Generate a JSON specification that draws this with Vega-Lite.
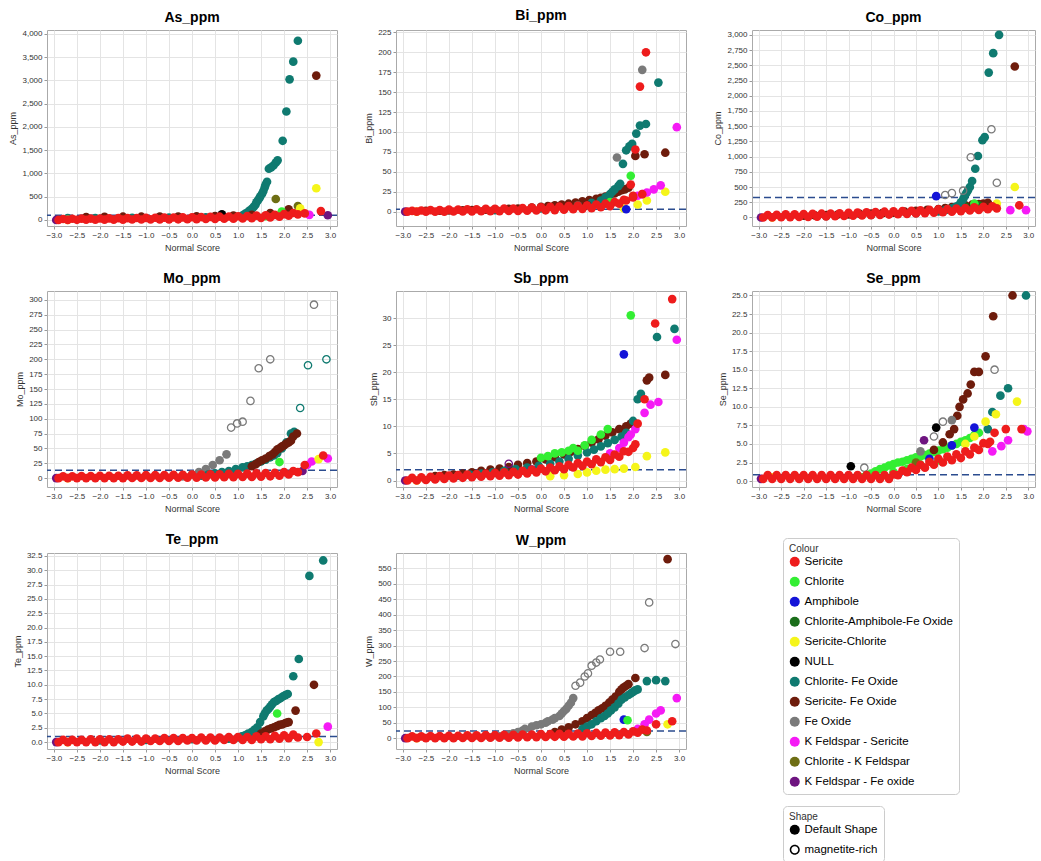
{
"$schema":"https://vega.github.io/schema/vega-lite/v6.json",
"background":"white",
"padding":{"left":8,"top":8,"right":2,"bottom":2},
"columns":3,
"spacing":{"row":18,"column":25},
"resolve":{"scale":{"x":"independent","y":"independent","color":"shared","shape":"shared"}},
"config":{"font":"Liberation Sans","view":{"stroke":"#aaaaaa"},"title":{"fontSize":14,"fontWeight":"bold","offset":5,"color":"#000"},"axis":{"labelFontSize":8,"titleFontSize":9,"titleFontWeight":"normal","labelColor":"#333","titleColor":"#333","gridColor":"#e4e4e4","domain":false,"tickColor":"#999","tickSize":3,"titlePadding":4}},
"datasets":{
"thr":[{"p":"As","y":100},{"p":"Bi","y":3},{"p":"Co","y":330},{"p":"Mo","y":13},{"p":"Sb","y":2},{"p":"Se","y":0.85},{"p":"Te","y":1},{"p":"W","y":23}],
"pts":[
{"p":"As","c":"Chlorite- Fe Oxide","s":"D","x":-2.7,"y":40},{"p":"As","c":"Chlorite- Fe Oxide","s":"D","x":-2.1,"y":40},{"p":"As","c":"Chlorite- Fe Oxide","s":"D","x":-1.3,"y":45},{"p":"As","c":"Chlorite- Fe Oxide","s":"D","x":-0.5,"y":50},{"p":"As","c":"Chlorite- Fe Oxide","s":"D","x":0.3,"y":55},{"p":"As","c":"Chlorite- Fe Oxide","s":"D","x":0.9,"y":70},{"p":"As","c":"Chlorite- Fe Oxide","s":"D","x":1.1,"y":100},{"p":"As","c":"Chlorite- Fe Oxide","s":"D","x":1.15,"y":130},{"p":"As","c":"Chlorite- Fe Oxide","s":"D","x":1.2,"y":160},{"p":"As","c":"Chlorite- Fe Oxide","s":"D","x":1.25,"y":200},{"p":"As","c":"Chlorite- Fe Oxide","s":"D","x":1.3,"y":240},{"p":"As","c":"Chlorite- Fe Oxide","s":"D","x":1.34,"y":280},{"p":"As","c":"Chlorite- Fe Oxide","s":"D","x":1.38,"y":330},{"p":"As","c":"Chlorite- Fe Oxide","s":"D","x":1.4,"y":380},{"p":"As","c":"Chlorite- Fe Oxide","s":"D","x":1.43,"y":420},{"p":"As","c":"Chlorite- Fe Oxide","s":"D","x":1.46,"y":460},{"p":"As","c":"Chlorite- Fe Oxide","s":"D","x":1.48,"y":500},{"p":"As","c":"Chlorite- Fe Oxide","s":"D","x":1.52,"y":560},{"p":"As","c":"Chlorite- Fe Oxide","s":"D","x":1.55,"y":620},{"p":"As","c":"Chlorite- Fe Oxide","s":"D","x":1.58,"y":700},{"p":"As","c":"Chlorite- Fe Oxide","s":"D","x":1.6,"y":760},{"p":"As","c":"Chlorite- Fe Oxide","s":"D","x":1.63,"y":820},{"p":"As","c":"Chlorite- Fe Oxide","s":"D","x":1.67,"y":1100},{"p":"As","c":"Chlorite- Fe Oxide","s":"D","x":1.72,"y":1130},{"p":"As","c":"Chlorite- Fe Oxide","s":"D","x":1.77,"y":1170},{"p":"As","c":"Chlorite- Fe Oxide","s":"D","x":1.82,"y":1230},{"p":"As","c":"Chlorite- Fe Oxide","s":"D","x":1.86,"y":1280},{"p":"As","c":"Chlorite- Fe Oxide","s":"D","x":1.97,"y":1700},{"p":"As","c":"Chlorite- Fe Oxide","s":"D","x":2.05,"y":2330},{"p":"As","c":"Chlorite- Fe Oxide","s":"D","x":2.12,"y":3020},{"p":"As","c":"Chlorite- Fe Oxide","s":"D","x":2.2,"y":3400},{"p":"As","c":"Chlorite- Fe Oxide","s":"D","x":2.3,"y":3850},
{"p":"As","c":"Sericite- Fe Oxide","s":"D","x":-2.3,"y":60},{"p":"As","c":"Sericite- Fe Oxide","s":"D","x":-1.9,"y":65},{"p":"As","c":"Sericite- Fe Oxide","s":"D","x":-1.5,"y":70},{"p":"As","c":"Sericite- Fe Oxide","s":"D","x":-1.1,"y":70},{"p":"As","c":"Sericite- Fe Oxide","s":"D","x":-0.7,"y":75},{"p":"As","c":"Sericite- Fe Oxide","s":"D","x":-0.3,"y":75},{"p":"As","c":"Sericite- Fe Oxide","s":"D","x":0.1,"y":80},{"p":"As","c":"Sericite- Fe Oxide","s":"D","x":0.5,"y":85},{"p":"As","c":"Sericite- Fe Oxide","s":"D","x":0.9,"y":95},{"p":"As","c":"Sericite- Fe Oxide","s":"D","x":1.3,"y":110},{"p":"As","c":"Sericite- Fe Oxide","s":"D","x":1.7,"y":150},{"p":"As","c":"Sericite- Fe Oxide","s":"D","x":2.1,"y":230},{"p":"As","c":"Sericite- Fe Oxide","s":"D","x":2.7,"y":3100},
{"p":"As","c":"Chlorite - K Feldspar","s":"D","x":1.82,"y":450},{"p":"As","c":"Chlorite - K Feldspar","s":"D","x":2.3,"y":300},
{"p":"As","c":"Sericite-Chlorite","s":"D","x":-2.7,"y":0},{"p":"As","c":"Sericite-Chlorite","s":"D","x":2.35,"y":250},{"p":"As","c":"Sericite-Chlorite","s":"D","x":2.7,"y":680},
{"p":"As","c":"Chlorite","s":"D","x":1.6,"y":80},{"p":"As","c":"Chlorite","s":"D","x":1.95,"y":180},
{"p":"As","c":"NULL","s":"D","x":0.65,"y":120},
{"p":"As","c":"K Feldspar - Fe oxide","s":"D","x":-2.95,"y":0},{"p":"As","c":"K Feldspar - Fe oxide","s":"D","x":2.95,"y":100},
{"p":"As","c":"K Feldspar - Sericite","s":"D","x":2.55,"y":110},
{"p":"As","c":"Sericite","s":"D","x":-2.8,"y":20},{"p":"As","c":"Sericite","s":"D","x":-2.6,"y":25},{"p":"As","c":"Sericite","s":"D","x":-2.4,"y":28},{"p":"As","c":"Sericite","s":"D","x":-2.2,"y":30},{"p":"As","c":"Sericite","s":"D","x":-2.0,"y":32},{"p":"As","c":"Sericite","s":"D","x":-1.8,"y":35},{"p":"As","c":"Sericite","s":"D","x":-1.6,"y":38},{"p":"As","c":"Sericite","s":"D","x":-1.4,"y":40},{"p":"As","c":"Sericite","s":"D","x":-1.2,"y":42},{"p":"As","c":"Sericite","s":"D","x":-1.0,"y":45},{"p":"As","c":"Sericite","s":"D","x":-0.8,"y":48},{"p":"As","c":"Sericite","s":"D","x":-0.6,"y":50},{"p":"As","c":"Sericite","s":"D","x":-0.4,"y":52},{"p":"As","c":"Sericite","s":"D","x":-0.2,"y":55},{"p":"As","c":"Sericite","s":"D","x":0,"y":58},{"p":"As","c":"Sericite","s":"D","x":0.2,"y":62},{"p":"As","c":"Sericite","s":"D","x":0.4,"y":66},{"p":"As","c":"Sericite","s":"D","x":0.6,"y":70},{"p":"As","c":"Sericite","s":"D","x":0.8,"y":75},{"p":"As","c":"Sericite","s":"D","x":1.0,"y":80},{"p":"As","c":"Sericite","s":"D","x":1.2,"y":85},{"p":"As","c":"Sericite","s":"D","x":1.4,"y":92},{"p":"As","c":"Sericite","s":"D","x":1.6,"y":100},{"p":"As","c":"Sericite","s":"D","x":1.8,"y":110},{"p":"As","c":"Sericite","s":"D","x":2.0,"y":125},{"p":"As","c":"Sericite","s":"D","x":2.2,"y":150},
{"p":"As","c":"Sericite","s":"D","x":-2.9,"y":0},{"p":"As","c":"Sericite","s":"D","x":-2.7,"y":2},{"p":"As","c":"Sericite","s":"D","x":-2.5,"y":3},{"p":"As","c":"Sericite","s":"D","x":-2.3,"y":4},{"p":"As","c":"Sericite","s":"D","x":-2.1,"y":5},{"p":"As","c":"Sericite","s":"D","x":-1.9,"y":6},{"p":"As","c":"Sericite","s":"D","x":-1.7,"y":7},{"p":"As","c":"Sericite","s":"D","x":-1.5,"y":8},{"p":"As","c":"Sericite","s":"D","x":-1.3,"y":9},{"p":"As","c":"Sericite","s":"D","x":-1.1,"y":10},{"p":"As","c":"Sericite","s":"D","x":-0.9,"y":11},{"p":"As","c":"Sericite","s":"D","x":-0.7,"y":12},{"p":"As","c":"Sericite","s":"D","x":-0.5,"y":13},{"p":"As","c":"Sericite","s":"D","x":-0.3,"y":14},{"p":"As","c":"Sericite","s":"D","x":-0.1,"y":16},{"p":"As","c":"Sericite","s":"D","x":0.1,"y":18},{"p":"As","c":"Sericite","s":"D","x":0.3,"y":20},{"p":"As","c":"Sericite","s":"D","x":0.5,"y":22},{"p":"As","c":"Sericite","s":"D","x":0.7,"y":25},{"p":"As","c":"Sericite","s":"D","x":0.9,"y":28},{"p":"As","c":"Sericite","s":"D","x":1.1,"y":32},{"p":"As","c":"Sericite","s":"D","x":1.3,"y":38},{"p":"As","c":"Sericite","s":"D","x":1.5,"y":45},{"p":"As","c":"Sericite","s":"D","x":1.7,"y":55},{"p":"As","c":"Sericite","s":"D","x":1.9,"y":70},{"p":"As","c":"Sericite","s":"D","x":2.1,"y":90},{"p":"As","c":"Sericite","s":"D","x":2.3,"y":120},{"p":"As","c":"Sericite","s":"D","x":2.45,"y":140},{"p":"As","c":"Sericite","s":"D","x":2.8,"y":190},

{"p":"Bi","c":"Sericite- Fe Oxide","s":"D","x":-2.5,"y":1},{"p":"Bi","c":"Sericite- Fe Oxide","s":"D","x":-2.2,"y":1.2},{"p":"Bi","c":"Sericite- Fe Oxide","s":"D","x":-2.0,"y":1.5},{"p":"Bi","c":"Sericite- Fe Oxide","s":"D","x":-1.7,"y":1.8},{"p":"Bi","c":"Sericite- Fe Oxide","s":"D","x":-1.5,"y":2},{"p":"Bi","c":"Sericite- Fe Oxide","s":"D","x":-1.2,"y":2.5},{"p":"Bi","c":"Sericite- Fe Oxide","s":"D","x":-1.0,"y":3},{"p":"Bi","c":"Sericite- Fe Oxide","s":"D","x":-0.7,"y":3.5},{"p":"Bi","c":"Sericite- Fe Oxide","s":"D","x":-0.5,"y":4},{"p":"Bi","c":"Sericite- Fe Oxide","s":"D","x":-0.2,"y":5},{"p":"Bi","c":"Sericite- Fe Oxide","s":"D","x":0,"y":6},{"p":"Bi","c":"Sericite- Fe Oxide","s":"D","x":0.15,"y":7},{"p":"Bi","c":"Sericite- Fe Oxide","s":"D","x":0.3,"y":8},{"p":"Bi","c":"Sericite- Fe Oxide","s":"D","x":0.45,"y":9},{"p":"Bi","c":"Sericite- Fe Oxide","s":"D","x":0.6,"y":10},{"p":"Bi","c":"Sericite- Fe Oxide","s":"D","x":0.75,"y":11.5},{"p":"Bi","c":"Sericite- Fe Oxide","s":"D","x":0.9,"y":13},{"p":"Bi","c":"Sericite- Fe Oxide","s":"D","x":1.05,"y":14.5},{"p":"Bi","c":"Sericite- Fe Oxide","s":"D","x":1.2,"y":16},{"p":"Bi","c":"Sericite- Fe Oxide","s":"D","x":1.3,"y":17.5},{"p":"Bi","c":"Sericite- Fe Oxide","s":"D","x":1.4,"y":19},{"p":"Bi","c":"Sericite- Fe Oxide","s":"D","x":1.5,"y":21},{"p":"Bi","c":"Sericite- Fe Oxide","s":"D","x":1.6,"y":23},{"p":"Bi","c":"Sericite- Fe Oxide","s":"D","x":1.68,"y":25},{"p":"Bi","c":"Sericite- Fe Oxide","s":"D","x":1.75,"y":27},{"p":"Bi","c":"Sericite- Fe Oxide","s":"D","x":1.82,"y":28},{"p":"Bi","c":"Sericite- Fe Oxide","s":"D","x":1.9,"y":30},{"p":"Bi","c":"Sericite- Fe Oxide","s":"D","x":2.05,"y":70},{"p":"Bi","c":"Sericite- Fe Oxide","s":"D","x":2.25,"y":72},{"p":"Bi","c":"Sericite- Fe Oxide","s":"D","x":2.7,"y":74},
{"p":"Bi","c":"Chlorite- Fe Oxide","s":"D","x":-1.0,"y":2},{"p":"Bi","c":"Chlorite- Fe Oxide","s":"D","x":0,"y":4},{"p":"Bi","c":"Chlorite- Fe Oxide","s":"D","x":0.8,"y":8},{"p":"Bi","c":"Chlorite- Fe Oxide","s":"D","x":1.1,"y":11},{"p":"Bi","c":"Chlorite- Fe Oxide","s":"D","x":1.3,"y":14},{"p":"Bi","c":"Chlorite- Fe Oxide","s":"D","x":1.4,"y":18},{"p":"Bi","c":"Chlorite- Fe Oxide","s":"D","x":1.5,"y":22},{"p":"Bi","c":"Chlorite- Fe Oxide","s":"D","x":1.55,"y":25},{"p":"Bi","c":"Chlorite- Fe Oxide","s":"D","x":1.6,"y":28},{"p":"Bi","c":"Chlorite- Fe Oxide","s":"D","x":1.68,"y":32},{"p":"Bi","c":"Chlorite- Fe Oxide","s":"D","x":1.72,"y":35},{"p":"Bi","c":"Chlorite- Fe Oxide","s":"D","x":1.78,"y":60},{"p":"Bi","c":"Chlorite- Fe Oxide","s":"D","x":1.85,"y":77},{"p":"Bi","c":"Chlorite- Fe Oxide","s":"D","x":1.92,"y":82},{"p":"Bi","c":"Chlorite- Fe Oxide","s":"D","x":1.98,"y":85},{"p":"Bi","c":"Chlorite- Fe Oxide","s":"D","x":2.07,"y":98},{"p":"Bi","c":"Chlorite- Fe Oxide","s":"D","x":2.15,"y":108},{"p":"Bi","c":"Chlorite- Fe Oxide","s":"D","x":2.28,"y":110},{"p":"Bi","c":"Chlorite- Fe Oxide","s":"D","x":2.55,"y":162},
{"p":"Bi","c":"Fe Oxide","s":"D","x":1.65,"y":68},{"p":"Bi","c":"Fe Oxide","s":"D","x":2.2,"y":178},
{"p":"Bi","c":"Chlorite","s":"D","x":1.5,"y":12},{"p":"Bi","c":"Chlorite","s":"D","x":1.95,"y":45},
{"p":"Bi","c":"Sericite-Chlorite","s":"D","x":-2.7,"y":0},{"p":"Bi","c":"Sericite-Chlorite","s":"D","x":1.8,"y":4},{"p":"Bi","c":"Sericite-Chlorite","s":"D","x":2.1,"y":9},{"p":"Bi","c":"Sericite-Chlorite","s":"D","x":2.3,"y":14},{"p":"Bi","c":"Sericite-Chlorite","s":"D","x":2.7,"y":25},
{"p":"Bi","c":"K Feldspar - Sericite","s":"D","x":2.1,"y":20},{"p":"Bi","c":"K Feldspar - Sericite","s":"D","x":2.2,"y":22},{"p":"Bi","c":"K Feldspar - Sericite","s":"D","x":2.3,"y":24},{"p":"Bi","c":"K Feldspar - Sericite","s":"D","x":2.45,"y":28},{"p":"Bi","c":"K Feldspar - Sericite","s":"D","x":2.6,"y":33},{"p":"Bi","c":"K Feldspar - Sericite","s":"D","x":2.95,"y":106},
{"p":"Bi","c":"Amphibole","s":"D","x":1.85,"y":3},{"p":"Bi","c":"K Feldspar - Fe oxide","s":"D","x":-2.95,"y":0},{"p":"Bi","c":"NULL","s":"D","x":1.0,"y":8},
{"p":"Bi","c":"Sericite","s":"D","x":-2.8,"y":1},{"p":"Bi","c":"Sericite","s":"D","x":-2.6,"y":1.5},{"p":"Bi","c":"Sericite","s":"D","x":-2.4,"y":2},{"p":"Bi","c":"Sericite","s":"D","x":-2.2,"y":2},{"p":"Bi","c":"Sericite","s":"D","x":-2.0,"y":2.5},{"p":"Bi","c":"Sericite","s":"D","x":-1.8,"y":2.5},{"p":"Bi","c":"Sericite","s":"D","x":-1.6,"y":3},{"p":"Bi","c":"Sericite","s":"D","x":-1.4,"y":3},{"p":"Bi","c":"Sericite","s":"D","x":-1.2,"y":3.5},{"p":"Bi","c":"Sericite","s":"D","x":-1.0,"y":3.5},{"p":"Bi","c":"Sericite","s":"D","x":-0.8,"y":4},{"p":"Bi","c":"Sericite","s":"D","x":-0.6,"y":4},{"p":"Bi","c":"Sericite","s":"D","x":-0.4,"y":4.5},{"p":"Bi","c":"Sericite","s":"D","x":-0.2,"y":5},{"p":"Bi","c":"Sericite","s":"D","x":0,"y":5.5},{"p":"Bi","c":"Sericite","s":"D","x":0.2,"y":6},{"p":"Bi","c":"Sericite","s":"D","x":0.4,"y":6.5},{"p":"Bi","c":"Sericite","s":"D","x":0.6,"y":7},{"p":"Bi","c":"Sericite","s":"D","x":0.8,"y":7.5},{"p":"Bi","c":"Sericite","s":"D","x":1.0,"y":8},{"p":"Bi","c":"Sericite","s":"D","x":1.2,"y":9},{"p":"Bi","c":"Sericite","s":"D","x":1.4,"y":10},{"p":"Bi","c":"Sericite","s":"D","x":1.6,"y":12},{"p":"Bi","c":"Sericite","s":"D","x":1.8,"y":15},{"p":"Bi","c":"Sericite","s":"D","x":2.0,"y":18},{"p":"Bi","c":"Sericite","s":"D","x":2.2,"y":22},
{"p":"Bi","c":"Sericite","s":"D","x":-2.9,"y":0},{"p":"Bi","c":"Sericite","s":"D","x":-2.7,"y":0},{"p":"Bi","c":"Sericite","s":"D","x":-2.5,"y":0},{"p":"Bi","c":"Sericite","s":"D","x":-2.3,"y":0},{"p":"Bi","c":"Sericite","s":"D","x":-2.1,"y":0},{"p":"Bi","c":"Sericite","s":"D","x":-1.9,"y":0.2},{"p":"Bi","c":"Sericite","s":"D","x":-1.7,"y":0.3},{"p":"Bi","c":"Sericite","s":"D","x":-1.5,"y":0.4},{"p":"Bi","c":"Sericite","s":"D","x":-1.3,"y":0.5},{"p":"Bi","c":"Sericite","s":"D","x":-1.1,"y":0.6},{"p":"Bi","c":"Sericite","s":"D","x":-0.9,"y":0.7},{"p":"Bi","c":"Sericite","s":"D","x":-0.7,"y":0.8},{"p":"Bi","c":"Sericite","s":"D","x":-0.5,"y":1},{"p":"Bi","c":"Sericite","s":"D","x":-0.3,"y":1.2},{"p":"Bi","c":"Sericite","s":"D","x":-0.1,"y":1.4},{"p":"Bi","c":"Sericite","s":"D","x":0.1,"y":1.7},{"p":"Bi","c":"Sericite","s":"D","x":0.3,"y":2},{"p":"Bi","c":"Sericite","s":"D","x":0.5,"y":2.5},{"p":"Bi","c":"Sericite","s":"D","x":0.7,"y":3},{"p":"Bi","c":"Sericite","s":"D","x":0.9,"y":3.5},{"p":"Bi","c":"Sericite","s":"D","x":1.1,"y":4.5},{"p":"Bi","c":"Sericite","s":"D","x":1.3,"y":5.5},{"p":"Bi","c":"Sericite","s":"D","x":1.5,"y":7},{"p":"Bi","c":"Sericite","s":"D","x":1.7,"y":10},{"p":"Bi","c":"Sericite","s":"D","x":1.85,"y":14},{"p":"Bi","c":"Sericite","s":"D","x":2.0,"y":20},{"p":"Bi","c":"Sericite","s":"D","x":1.95,"y":34},{"p":"Bi","c":"Sericite","s":"D","x":2.05,"y":78},{"p":"Bi","c":"Sericite","s":"D","x":2.15,"y":157},{"p":"Bi","c":"Sericite","s":"D","x":2.28,"y":200},

{"p":"Co","c":"Sericite- Fe Oxide","s":"D","x":-2.0,"y":30},{"p":"Co","c":"Sericite- Fe Oxide","s":"D","x":-1.75,"y":35},{"p":"Co","c":"Sericite- Fe Oxide","s":"D","x":-1.5,"y":40},{"p":"Co","c":"Sericite- Fe Oxide","s":"D","x":-1.25,"y":45},{"p":"Co","c":"Sericite- Fe Oxide","s":"D","x":-1.0,"y":50},{"p":"Co","c":"Sericite- Fe Oxide","s":"D","x":-0.75,"y":58},{"p":"Co","c":"Sericite- Fe Oxide","s":"D","x":-0.5,"y":65},{"p":"Co","c":"Sericite- Fe Oxide","s":"D","x":-0.25,"y":72},{"p":"Co","c":"Sericite- Fe Oxide","s":"D","x":0,"y":80},{"p":"Co","c":"Sericite- Fe Oxide","s":"D","x":0.25,"y":95},{"p":"Co","c":"Sericite- Fe Oxide","s":"D","x":0.5,"y":110},{"p":"Co","c":"Sericite- Fe Oxide","s":"D","x":0.75,"y":125},{"p":"Co","c":"Sericite- Fe Oxide","s":"D","x":1.0,"y":140},{"p":"Co","c":"Sericite- Fe Oxide","s":"D","x":1.15,"y":155},{"p":"Co","c":"Sericite- Fe Oxide","s":"D","x":1.3,"y":170},{"p":"Co","c":"Sericite- Fe Oxide","s":"D","x":1.45,"y":185},{"p":"Co","c":"Sericite- Fe Oxide","s":"D","x":1.6,"y":200},{"p":"Co","c":"Sericite- Fe Oxide","s":"D","x":1.75,"y":210},{"p":"Co","c":"Sericite- Fe Oxide","s":"D","x":1.9,"y":220},{"p":"Co","c":"Sericite- Fe Oxide","s":"D","x":2.0,"y":230},{"p":"Co","c":"Sericite- Fe Oxide","s":"D","x":2.1,"y":240},{"p":"Co","c":"Sericite- Fe Oxide","s":"D","x":2.7,"y":2480},
{"p":"Co","c":"Chlorite-Amphibole-Fe Oxide","s":"D","x":1.2,"y":140},{"p":"Co","c":"Chlorite-Amphibole-Fe Oxide","s":"D","x":1.6,"y":180},{"p":"Co","c":"Chlorite-Amphibole-Fe Oxide","s":"D","x":1.9,"y":200},
{"p":"Co","c":"Chlorite- Fe Oxide","s":"D","x":-1.5,"y":20},{"p":"Co","c":"Chlorite- Fe Oxide","s":"D","x":-0.5,"y":40},{"p":"Co","c":"Chlorite- Fe Oxide","s":"D","x":0.5,"y":70},{"p":"Co","c":"Chlorite- Fe Oxide","s":"D","x":1.0,"y":100},{"p":"Co","c":"Chlorite- Fe Oxide","s":"D","x":1.15,"y":120},{"p":"Co","c":"Chlorite- Fe Oxide","s":"D","x":1.3,"y":150},{"p":"Co","c":"Chlorite- Fe Oxide","s":"D","x":1.38,"y":175},{"p":"Co","c":"Chlorite- Fe Oxide","s":"D","x":1.45,"y":200},{"p":"Co","c":"Chlorite- Fe Oxide","s":"D","x":1.5,"y":250},{"p":"Co","c":"Chlorite- Fe Oxide","s":"D","x":1.55,"y":300},{"p":"Co","c":"Chlorite- Fe Oxide","s":"D","x":1.58,"y":350},{"p":"Co","c":"Chlorite- Fe Oxide","s":"D","x":1.62,"y":400},{"p":"Co","c":"Chlorite- Fe Oxide","s":"D","x":1.66,"y":450},{"p":"Co","c":"Chlorite- Fe Oxide","s":"D","x":1.7,"y":500},{"p":"Co","c":"Chlorite- Fe Oxide","s":"D","x":1.75,"y":600},{"p":"Co","c":"Chlorite- Fe Oxide","s":"D","x":1.82,"y":800},{"p":"Co","c":"Chlorite- Fe Oxide","s":"D","x":1.88,"y":1010},{"p":"Co","c":"Chlorite- Fe Oxide","s":"D","x":1.98,"y":1270},{"p":"Co","c":"Chlorite- Fe Oxide","s":"D","x":2.03,"y":1320},{"p":"Co","c":"Chlorite- Fe Oxide","s":"D","x":2.12,"y":2380},{"p":"Co","c":"Chlorite- Fe Oxide","s":"D","x":2.22,"y":2700},{"p":"Co","c":"Chlorite- Fe Oxide","s":"D","x":2.35,"y":3000},
{"p":"Co","c":"Fe Oxide","s":"M","x":1.15,"y":370},{"p":"Co","c":"Fe Oxide","s":"M","x":1.3,"y":400},{"p":"Co","c":"Fe Oxide","s":"M","x":1.55,"y":440},{"p":"Co","c":"Fe Oxide","s":"M","x":1.72,"y":990},{"p":"Co","c":"Fe Oxide","s":"M","x":2.18,"y":1450},{"p":"Co","c":"Fe Oxide","s":"M","x":2.3,"y":570},
{"p":"Co","c":"Amphibole","s":"D","x":0.95,"y":350},
{"p":"Co","c":"Sericite-Chlorite","s":"D","x":-2.7,"y":0},{"p":"Co","c":"Sericite-Chlorite","s":"D","x":2.3,"y":230},{"p":"Co","c":"Sericite-Chlorite","s":"D","x":2.7,"y":500},
{"p":"Co","c":"K Feldspar - Sericite","s":"D","x":2.6,"y":120},{"p":"Co","c":"K Feldspar - Sericite","s":"D","x":2.95,"y":120},
{"p":"Co","c":"Chlorite","s":"D","x":1.8,"y":230},{"p":"Co","c":"K Feldspar - Fe oxide","s":"D","x":-2.95,"y":0},
{"p":"Co","c":"Sericite","s":"D","x":-2.8,"y":40},{"p":"Co","c":"Sericite","s":"D","x":-2.6,"y":45},{"p":"Co","c":"Sericite","s":"D","x":-2.4,"y":50},{"p":"Co","c":"Sericite","s":"D","x":-2.2,"y":52},{"p":"Co","c":"Sericite","s":"D","x":-2.0,"y":55},{"p":"Co","c":"Sericite","s":"D","x":-1.8,"y":60},{"p":"Co","c":"Sericite","s":"D","x":-1.6,"y":62},{"p":"Co","c":"Sericite","s":"D","x":-1.4,"y":65},{"p":"Co","c":"Sericite","s":"D","x":-1.2,"y":70},{"p":"Co","c":"Sericite","s":"D","x":-1.0,"y":75},{"p":"Co","c":"Sericite","s":"D","x":-0.8,"y":80},{"p":"Co","c":"Sericite","s":"D","x":-0.6,"y":85},{"p":"Co","c":"Sericite","s":"D","x":-0.4,"y":90},{"p":"Co","c":"Sericite","s":"D","x":-0.2,"y":95},{"p":"Co","c":"Sericite","s":"D","x":0,"y":100},{"p":"Co","c":"Sericite","s":"D","x":0.2,"y":105},{"p":"Co","c":"Sericite","s":"D","x":0.4,"y":110},{"p":"Co","c":"Sericite","s":"D","x":0.6,"y":118},{"p":"Co","c":"Sericite","s":"D","x":0.8,"y":125},{"p":"Co","c":"Sericite","s":"D","x":1.0,"y":132},{"p":"Co","c":"Sericite","s":"D","x":1.2,"y":140},{"p":"Co","c":"Sericite","s":"D","x":1.4,"y":148},{"p":"Co","c":"Sericite","s":"D","x":1.6,"y":155},{"p":"Co","c":"Sericite","s":"D","x":1.8,"y":165},{"p":"Co","c":"Sericite","s":"D","x":2.0,"y":175},{"p":"Co","c":"Sericite","s":"D","x":2.2,"y":185},
{"p":"Co","c":"Sericite","s":"D","x":-2.9,"y":0},{"p":"Co","c":"Sericite","s":"D","x":-2.7,"y":2},{"p":"Co","c":"Sericite","s":"D","x":-2.5,"y":4},{"p":"Co","c":"Sericite","s":"D","x":-2.3,"y":6},{"p":"Co","c":"Sericite","s":"D","x":-2.1,"y":8},{"p":"Co","c":"Sericite","s":"D","x":-1.9,"y":10},{"p":"Co","c":"Sericite","s":"D","x":-1.7,"y":13},{"p":"Co","c":"Sericite","s":"D","x":-1.5,"y":16},{"p":"Co","c":"Sericite","s":"D","x":-1.3,"y":20},{"p":"Co","c":"Sericite","s":"D","x":-1.1,"y":24},{"p":"Co","c":"Sericite","s":"D","x":-0.9,"y":28},{"p":"Co","c":"Sericite","s":"D","x":-0.7,"y":33},{"p":"Co","c":"Sericite","s":"D","x":-0.5,"y":38},{"p":"Co","c":"Sericite","s":"D","x":-0.3,"y":43},{"p":"Co","c":"Sericite","s":"D","x":-0.1,"y":48},{"p":"Co","c":"Sericite","s":"D","x":0.1,"y":54},{"p":"Co","c":"Sericite","s":"D","x":0.3,"y":60},{"p":"Co","c":"Sericite","s":"D","x":0.5,"y":66},{"p":"Co","c":"Sericite","s":"D","x":0.7,"y":72},{"p":"Co","c":"Sericite","s":"D","x":0.9,"y":80},{"p":"Co","c":"Sericite","s":"D","x":1.1,"y":88},{"p":"Co","c":"Sericite","s":"D","x":1.3,"y":96},{"p":"Co","c":"Sericite","s":"D","x":1.5,"y":105},{"p":"Co","c":"Sericite","s":"D","x":1.7,"y":115},{"p":"Co","c":"Sericite","s":"D","x":1.9,"y":125},{"p":"Co","c":"Sericite","s":"D","x":2.1,"y":135},{"p":"Co","c":"Sericite","s":"D","x":2.3,"y":150},{"p":"Co","c":"Sericite","s":"D","x":2.8,"y":200},

{"p":"Mo","c":"Fe Oxide","s":"D","x":-0.2,"y":3},{"p":"Mo","c":"Fe Oxide","s":"D","x":0,"y":6},{"p":"Mo","c":"Fe Oxide","s":"D","x":0.15,"y":10},{"p":"Mo","c":"Fe Oxide","s":"D","x":0.3,"y":15},{"p":"Mo","c":"Fe Oxide","s":"D","x":0.45,"y":22},{"p":"Mo","c":"Fe Oxide","s":"D","x":0.6,"y":30},{"p":"Mo","c":"Fe Oxide","s":"D","x":0.75,"y":40},
{"p":"Mo","c":"Fe Oxide","s":"M","x":0.85,"y":85},{"p":"Mo","c":"Fe Oxide","s":"M","x":0.98,"y":92},{"p":"Mo","c":"Fe Oxide","s":"M","x":1.1,"y":95},{"p":"Mo","c":"Fe Oxide","s":"M","x":1.27,"y":130},{"p":"Mo","c":"Fe Oxide","s":"M","x":1.45,"y":185},{"p":"Mo","c":"Fe Oxide","s":"M","x":1.7,"y":200},{"p":"Mo","c":"Fe Oxide","s":"M","x":2.65,"y":292},
{"p":"Mo","c":"Chlorite- Fe Oxide","s":"M","x":2.35,"y":118},{"p":"Mo","c":"Chlorite- Fe Oxide","s":"M","x":2.52,"y":190},{"p":"Mo","c":"Chlorite- Fe Oxide","s":"M","x":2.92,"y":200},
{"p":"Mo","c":"Chlorite- Fe Oxide","s":"D","x":0.2,"y":4},{"p":"Mo","c":"Chlorite- Fe Oxide","s":"D","x":0.35,"y":6},{"p":"Mo","c":"Chlorite- Fe Oxide","s":"D","x":0.5,"y":8},{"p":"Mo","c":"Chlorite- Fe Oxide","s":"D","x":0.65,"y":10},{"p":"Mo","c":"Chlorite- Fe Oxide","s":"D","x":0.8,"y":12},{"p":"Mo","c":"Chlorite- Fe Oxide","s":"D","x":0.95,"y":15},{"p":"Mo","c":"Chlorite- Fe Oxide","s":"D","x":1.1,"y":18},{"p":"Mo","c":"Chlorite- Fe Oxide","s":"D","x":1.2,"y":20},{"p":"Mo","c":"Chlorite- Fe Oxide","s":"D","x":1.3,"y":22},{"p":"Mo","c":"Chlorite- Fe Oxide","s":"D","x":1.4,"y":25},{"p":"Mo","c":"Chlorite- Fe Oxide","s":"D","x":1.5,"y":28},{"p":"Mo","c":"Chlorite- Fe Oxide","s":"D","x":1.6,"y":31},{"p":"Mo","c":"Chlorite- Fe Oxide","s":"D","x":1.7,"y":35},{"p":"Mo","c":"Chlorite- Fe Oxide","s":"D","x":1.78,"y":38},{"p":"Mo","c":"Chlorite- Fe Oxide","s":"D","x":1.85,"y":42},{"p":"Mo","c":"Chlorite- Fe Oxide","s":"D","x":1.95,"y":50},{"p":"Mo","c":"Chlorite- Fe Oxide","s":"D","x":2.05,"y":60},{"p":"Mo","c":"Chlorite- Fe Oxide","s":"D","x":2.15,"y":75},{"p":"Mo","c":"Chlorite- Fe Oxide","s":"D","x":2.22,"y":78},
{"p":"Mo","c":"Sericite- Fe Oxide","s":"D","x":1.3,"y":20},{"p":"Mo","c":"Sericite- Fe Oxide","s":"D","x":1.38,"y":23},{"p":"Mo","c":"Sericite- Fe Oxide","s":"D","x":1.45,"y":27},{"p":"Mo","c":"Sericite- Fe Oxide","s":"D","x":1.52,"y":30},{"p":"Mo","c":"Sericite- Fe Oxide","s":"D","x":1.6,"y":33},{"p":"Mo","c":"Sericite- Fe Oxide","s":"D","x":1.68,"y":37},{"p":"Mo","c":"Sericite- Fe Oxide","s":"D","x":1.75,"y":40},{"p":"Mo","c":"Sericite- Fe Oxide","s":"D","x":1.8,"y":44},{"p":"Mo","c":"Sericite- Fe Oxide","s":"D","x":1.85,"y":48},{"p":"Mo","c":"Sericite- Fe Oxide","s":"D","x":1.9,"y":50},{"p":"Mo","c":"Sericite- Fe Oxide","s":"D","x":1.95,"y":53},{"p":"Mo","c":"Sericite- Fe Oxide","s":"D","x":2.0,"y":55},{"p":"Mo","c":"Sericite- Fe Oxide","s":"D","x":2.05,"y":58},{"p":"Mo","c":"Sericite- Fe Oxide","s":"D","x":2.1,"y":60},{"p":"Mo","c":"Sericite- Fe Oxide","s":"D","x":2.15,"y":63},{"p":"Mo","c":"Sericite- Fe Oxide","s":"D","x":2.2,"y":70},{"p":"Mo","c":"Sericite- Fe Oxide","s":"D","x":2.28,"y":75},
{"p":"Mo","c":"Chlorite","s":"D","x":1.9,"y":27},
{"p":"Mo","c":"K Feldspar - Sericite","s":"D","x":2.5,"y":22},{"p":"Mo","c":"K Feldspar - Sericite","s":"D","x":2.6,"y":28},{"p":"Mo","c":"K Feldspar - Sericite","s":"D","x":2.95,"y":33},
{"p":"Mo","c":"Sericite-Chlorite","s":"D","x":-2.7,"y":0},{"p":"Mo","c":"Sericite-Chlorite","s":"D","x":2.75,"y":32},
{"p":"Mo","c":"K Feldspar - Fe oxide","s":"D","x":-2.95,"y":0},{"p":"Mo","c":"K Feldspar - Fe oxide","s":"D","x":2.4,"y":12},
{"p":"Mo","c":"Sericite","s":"D","x":-2.8,"y":3},{"p":"Mo","c":"Sericite","s":"D","x":-2.6,"y":3},{"p":"Mo","c":"Sericite","s":"D","x":-2.4,"y":3.5},{"p":"Mo","c":"Sericite","s":"D","x":-2.2,"y":3.5},{"p":"Mo","c":"Sericite","s":"D","x":-2.0,"y":4},{"p":"Mo","c":"Sericite","s":"D","x":-1.8,"y":4},{"p":"Mo","c":"Sericite","s":"D","x":-1.6,"y":4},{"p":"Mo","c":"Sericite","s":"D","x":-1.4,"y":4.5},{"p":"Mo","c":"Sericite","s":"D","x":-1.2,"y":4.5},{"p":"Mo","c":"Sericite","s":"D","x":-1.0,"y":5},{"p":"Mo","c":"Sericite","s":"D","x":-0.8,"y":5},{"p":"Mo","c":"Sericite","s":"D","x":-0.6,"y":5},{"p":"Mo","c":"Sericite","s":"D","x":-0.4,"y":5.5},{"p":"Mo","c":"Sericite","s":"D","x":-0.2,"y":5.5},{"p":"Mo","c":"Sericite","s":"D","x":0,"y":6},{"p":"Mo","c":"Sericite","s":"D","x":0.2,"y":6},{"p":"Mo","c":"Sericite","s":"D","x":0.4,"y":6.5},{"p":"Mo","c":"Sericite","s":"D","x":0.6,"y":6.5},{"p":"Mo","c":"Sericite","s":"D","x":0.8,"y":7},{"p":"Mo","c":"Sericite","s":"D","x":1.0,"y":7},{"p":"Mo","c":"Sericite","s":"D","x":1.2,"y":7.5},{"p":"Mo","c":"Sericite","s":"D","x":1.4,"y":8},{"p":"Mo","c":"Sericite","s":"D","x":1.6,"y":8.5},{"p":"Mo","c":"Sericite","s":"D","x":1.8,"y":9},{"p":"Mo","c":"Sericite","s":"D","x":2.0,"y":10},{"p":"Mo","c":"Sericite","s":"D","x":2.2,"y":12},
{"p":"Mo","c":"Sericite","s":"D","x":-2.9,"y":0},{"p":"Mo","c":"Sericite","s":"D","x":-2.7,"y":0},{"p":"Mo","c":"Sericite","s":"D","x":-2.5,"y":0},{"p":"Mo","c":"Sericite","s":"D","x":-2.3,"y":0},{"p":"Mo","c":"Sericite","s":"D","x":-2.1,"y":0},{"p":"Mo","c":"Sericite","s":"D","x":-1.9,"y":0},{"p":"Mo","c":"Sericite","s":"D","x":-1.7,"y":0},{"p":"Mo","c":"Sericite","s":"D","x":-1.5,"y":0},{"p":"Mo","c":"Sericite","s":"D","x":-1.3,"y":0.1},{"p":"Mo","c":"Sericite","s":"D","x":-1.1,"y":0.2},{"p":"Mo","c":"Sericite","s":"D","x":-0.9,"y":0.3},{"p":"Mo","c":"Sericite","s":"D","x":-0.7,"y":0.4},{"p":"Mo","c":"Sericite","s":"D","x":-0.5,"y":0.5},{"p":"Mo","c":"Sericite","s":"D","x":-0.3,"y":0.6},{"p":"Mo","c":"Sericite","s":"D","x":-0.1,"y":0.7},{"p":"Mo","c":"Sericite","s":"D","x":0.1,"y":0.8},{"p":"Mo","c":"Sericite","s":"D","x":0.3,"y":1},{"p":"Mo","c":"Sericite","s":"D","x":0.5,"y":1.2},{"p":"Mo","c":"Sericite","s":"D","x":0.7,"y":1.4},{"p":"Mo","c":"Sericite","s":"D","x":0.9,"y":1.6},{"p":"Mo","c":"Sericite","s":"D","x":1.1,"y":1.8},{"p":"Mo","c":"Sericite","s":"D","x":1.3,"y":2},{"p":"Mo","c":"Sericite","s":"D","x":1.5,"y":2.5},{"p":"Mo","c":"Sericite","s":"D","x":1.7,"y":3},{"p":"Mo","c":"Sericite","s":"D","x":1.9,"y":4},{"p":"Mo","c":"Sericite","s":"D","x":2.1,"y":6},{"p":"Mo","c":"Sericite","s":"D","x":2.3,"y":10},{"p":"Mo","c":"Sericite","s":"D","x":2.45,"y":22},{"p":"Mo","c":"Sericite","s":"D","x":2.85,"y":38},

{"p":"Sb","c":"Sericite- Fe Oxide","s":"D","x":-2.3,"y":0.8},{"p":"Sb","c":"Sericite- Fe Oxide","s":"D","x":-2.1,"y":1.0},{"p":"Sb","c":"Sericite- Fe Oxide","s":"D","x":-1.9,"y":1.1},{"p":"Sb","c":"Sericite- Fe Oxide","s":"D","x":-1.7,"y":1.3},{"p":"Sb","c":"Sericite- Fe Oxide","s":"D","x":-1.5,"y":1.5},{"p":"Sb","c":"Sericite- Fe Oxide","s":"D","x":-1.3,"y":1.8},{"p":"Sb","c":"Sericite- Fe Oxide","s":"D","x":-1.1,"y":2},{"p":"Sb","c":"Sericite- Fe Oxide","s":"D","x":-0.9,"y":2.2},{"p":"Sb","c":"Sericite- Fe Oxide","s":"D","x":-0.7,"y":2.5},{"p":"Sb","c":"Sericite- Fe Oxide","s":"D","x":-0.5,"y":2.9},{"p":"Sb","c":"Sericite- Fe Oxide","s":"D","x":-0.3,"y":3.2},{"p":"Sb","c":"Sericite- Fe Oxide","s":"D","x":-0.1,"y":3.5},{"p":"Sb","c":"Sericite- Fe Oxide","s":"D","x":0.1,"y":3.9},{"p":"Sb","c":"Sericite- Fe Oxide","s":"D","x":0.3,"y":4.3},{"p":"Sb","c":"Sericite- Fe Oxide","s":"D","x":0.5,"y":4.8},{"p":"Sb","c":"Sericite- Fe Oxide","s":"D","x":0.65,"y":5.3},{"p":"Sb","c":"Sericite- Fe Oxide","s":"D","x":0.8,"y":5.8},{"p":"Sb","c":"Sericite- Fe Oxide","s":"D","x":0.95,"y":6.4},{"p":"Sb","c":"Sericite- Fe Oxide","s":"D","x":1.1,"y":7},{"p":"Sb","c":"Sericite- Fe Oxide","s":"D","x":1.25,"y":7.6},{"p":"Sb","c":"Sericite- Fe Oxide","s":"D","x":1.4,"y":8.3},{"p":"Sb","c":"Sericite- Fe Oxide","s":"D","x":1.55,"y":8.9},{"p":"Sb","c":"Sericite- Fe Oxide","s":"D","x":1.7,"y":9.5},{"p":"Sb","c":"Sericite- Fe Oxide","s":"D","x":1.85,"y":10},{"p":"Sb","c":"Sericite- Fe Oxide","s":"D","x":1.95,"y":10.5},{"p":"Sb","c":"Sericite- Fe Oxide","s":"D","x":2.3,"y":18.5},{"p":"Sb","c":"Sericite- Fe Oxide","s":"D","x":2.35,"y":19},{"p":"Sb","c":"Sericite- Fe Oxide","s":"D","x":2.7,"y":19.5},
{"p":"Sb","c":"Chlorite- Fe Oxide","s":"D","x":-1.8,"y":0.9},{"p":"Sb","c":"Chlorite- Fe Oxide","s":"D","x":-1.55,"y":1.1},{"p":"Sb","c":"Chlorite- Fe Oxide","s":"D","x":-1.3,"y":1.3},{"p":"Sb","c":"Chlorite- Fe Oxide","s":"D","x":-1.05,"y":1.5},{"p":"Sb","c":"Chlorite- Fe Oxide","s":"D","x":-0.8,"y":1.8},{"p":"Sb","c":"Chlorite- Fe Oxide","s":"D","x":-0.55,"y":2.1},{"p":"Sb","c":"Chlorite- Fe Oxide","s":"D","x":-0.3,"y":2.4},{"p":"Sb","c":"Chlorite- Fe Oxide","s":"D","x":-0.05,"y":2.7},{"p":"Sb","c":"Chlorite- Fe Oxide","s":"D","x":0.2,"y":3.1},{"p":"Sb","c":"Chlorite- Fe Oxide","s":"D","x":0.4,"y":3.5},{"p":"Sb","c":"Chlorite- Fe Oxide","s":"D","x":0.6,"y":4},{"p":"Sb","c":"Chlorite- Fe Oxide","s":"D","x":0.8,"y":4.6},{"p":"Sb","c":"Chlorite- Fe Oxide","s":"D","x":1.0,"y":5.2},{"p":"Sb","c":"Chlorite- Fe Oxide","s":"D","x":1.15,"y":5.7},{"p":"Sb","c":"Chlorite- Fe Oxide","s":"D","x":1.3,"y":6.3},{"p":"Sb","c":"Chlorite- Fe Oxide","s":"D","x":1.45,"y":6.9},{"p":"Sb","c":"Chlorite- Fe Oxide","s":"D","x":1.6,"y":7.5},{"p":"Sb","c":"Chlorite- Fe Oxide","s":"D","x":1.75,"y":8.1},{"p":"Sb","c":"Chlorite- Fe Oxide","s":"D","x":1.85,"y":8.8},{"p":"Sb","c":"Chlorite- Fe Oxide","s":"D","x":2.0,"y":11},{"p":"Sb","c":"Chlorite- Fe Oxide","s":"D","x":2.1,"y":15},{"p":"Sb","c":"Chlorite- Fe Oxide","s":"D","x":2.17,"y":16},{"p":"Sb","c":"Chlorite- Fe Oxide","s":"D","x":2.52,"y":26.5},{"p":"Sb","c":"Chlorite- Fe Oxide","s":"D","x":2.9,"y":28},
{"p":"Sb","c":"Chlorite","s":"D","x":0,"y":4.2},{"p":"Sb","c":"Chlorite","s":"D","x":0.15,"y":4.5},{"p":"Sb","c":"Chlorite","s":"D","x":0.3,"y":5},{"p":"Sb","c":"Chlorite","s":"D","x":0.45,"y":5.2},{"p":"Sb","c":"Chlorite","s":"D","x":0.6,"y":5.5},{"p":"Sb","c":"Chlorite","s":"D","x":0.7,"y":6},{"p":"Sb","c":"Chlorite","s":"D","x":0.8,"y":5.5},{"p":"Sb","c":"Chlorite","s":"D","x":0.95,"y":6.5},{"p":"Sb","c":"Chlorite","s":"D","x":1.1,"y":7.5},{"p":"Sb","c":"Chlorite","s":"D","x":1.3,"y":8.5},{"p":"Sb","c":"Chlorite","s":"D","x":1.45,"y":9.5},{"p":"Sb","c":"Chlorite","s":"D","x":1.95,"y":30.5},
{"p":"Sb","c":"Amphibole","s":"D","x":-0.2,"y":2},{"p":"Sb","c":"Amphibole","s":"D","x":1.8,"y":23.3},
{"p":"Sb","c":"K Feldspar - Sericite","s":"D","x":1.5,"y":5},{"p":"Sb","c":"K Feldspar - Sericite","s":"D","x":1.7,"y":6},{"p":"Sb","c":"K Feldspar - Sericite","s":"D","x":1.8,"y":7},{"p":"Sb","c":"K Feldspar - Sericite","s":"D","x":1.9,"y":8},{"p":"Sb","c":"K Feldspar - Sericite","s":"D","x":1.95,"y":8.5},{"p":"Sb","c":"K Feldspar - Sericite","s":"D","x":2.05,"y":9.5},{"p":"Sb","c":"K Feldspar - Sericite","s":"D","x":2.25,"y":12.5},{"p":"Sb","c":"K Feldspar - Sericite","s":"D","x":2.38,"y":14},{"p":"Sb","c":"K Feldspar - Sericite","s":"D","x":2.55,"y":14.5},{"p":"Sb","c":"K Feldspar - Sericite","s":"D","x":2.95,"y":26},
{"p":"Sb","c":"Sericite-Chlorite","s":"D","x":-2.7,"y":0},{"p":"Sb","c":"Sericite-Chlorite","s":"D","x":0.2,"y":0.8},{"p":"Sb","c":"Sericite-Chlorite","s":"D","x":0.5,"y":1},{"p":"Sb","c":"Sericite-Chlorite","s":"D","x":0.8,"y":1.2},{"p":"Sb","c":"Sericite-Chlorite","s":"D","x":1.0,"y":1.5},{"p":"Sb","c":"Sericite-Chlorite","s":"D","x":1.2,"y":1.8},{"p":"Sb","c":"Sericite-Chlorite","s":"D","x":1.4,"y":2},{"p":"Sb","c":"Sericite-Chlorite","s":"D","x":1.6,"y":2.1},{"p":"Sb","c":"Sericite-Chlorite","s":"D","x":1.8,"y":2.2},{"p":"Sb","c":"Sericite-Chlorite","s":"D","x":2.05,"y":2.5},{"p":"Sb","c":"Sericite-Chlorite","s":"D","x":2.3,"y":4.5},{"p":"Sb","c":"Sericite-Chlorite","s":"D","x":2.7,"y":5.2},
{"p":"Sb","c":"K Feldspar - Fe oxide","s":"D","x":-2.95,"y":0},{"p":"Sb","c":"K Feldspar - Fe oxide","s":"M","x":-0.7,"y":3.1},
{"p":"Sb","c":"Sericite","s":"D","x":-2.8,"y":0.5},{"p":"Sb","c":"Sericite","s":"D","x":-2.6,"y":0.6},{"p":"Sb","c":"Sericite","s":"D","x":-2.4,"y":0.7},{"p":"Sb","c":"Sericite","s":"D","x":-2.2,"y":0.8},{"p":"Sb","c":"Sericite","s":"D","x":-2.0,"y":0.9},{"p":"Sb","c":"Sericite","s":"D","x":-1.8,"y":1.0},{"p":"Sb","c":"Sericite","s":"D","x":-1.6,"y":1.1},{"p":"Sb","c":"Sericite","s":"D","x":-1.4,"y":1.2},{"p":"Sb","c":"Sericite","s":"D","x":-1.2,"y":1.3},{"p":"Sb","c":"Sericite","s":"D","x":-1.0,"y":1.4},{"p":"Sb","c":"Sericite","s":"D","x":-0.8,"y":1.5},{"p":"Sb","c":"Sericite","s":"D","x":-0.6,"y":1.6},{"p":"Sb","c":"Sericite","s":"D","x":-0.4,"y":1.8},{"p":"Sb","c":"Sericite","s":"D","x":-0.2,"y":2.0},{"p":"Sb","c":"Sericite","s":"D","x":0,"y":2.2},{"p":"Sb","c":"Sericite","s":"D","x":0.2,"y":2.4},{"p":"Sb","c":"Sericite","s":"D","x":0.4,"y":2.6},{"p":"Sb","c":"Sericite","s":"D","x":0.6,"y":2.9},{"p":"Sb","c":"Sericite","s":"D","x":0.8,"y":3.2},{"p":"Sb","c":"Sericite","s":"D","x":1.0,"y":3.5},{"p":"Sb","c":"Sericite","s":"D","x":1.2,"y":3.9},{"p":"Sb","c":"Sericite","s":"D","x":1.4,"y":4.3},{"p":"Sb","c":"Sericite","s":"D","x":1.6,"y":4.8},{"p":"Sb","c":"Sericite","s":"D","x":1.8,"y":5.4},{"p":"Sb","c":"Sericite","s":"D","x":2.0,"y":6.0},
{"p":"Sb","c":"Sericite","s":"D","x":-2.9,"y":0},{"p":"Sb","c":"Sericite","s":"D","x":-2.7,"y":0},{"p":"Sb","c":"Sericite","s":"D","x":-2.5,"y":0.1},{"p":"Sb","c":"Sericite","s":"D","x":-2.3,"y":0.2},{"p":"Sb","c":"Sericite","s":"D","x":-2.1,"y":0.3},{"p":"Sb","c":"Sericite","s":"D","x":-1.9,"y":0.4},{"p":"Sb","c":"Sericite","s":"D","x":-1.7,"y":0.5},{"p":"Sb","c":"Sericite","s":"D","x":-1.5,"y":0.6},{"p":"Sb","c":"Sericite","s":"D","x":-1.3,"y":0.7},{"p":"Sb","c":"Sericite","s":"D","x":-1.1,"y":0.8},{"p":"Sb","c":"Sericite","s":"D","x":-0.9,"y":0.9},{"p":"Sb","c":"Sericite","s":"D","x":-0.7,"y":1.0},{"p":"Sb","c":"Sericite","s":"D","x":-0.5,"y":1.1},{"p":"Sb","c":"Sericite","s":"D","x":-0.3,"y":1.3},{"p":"Sb","c":"Sericite","s":"D","x":-0.1,"y":1.5},{"p":"Sb","c":"Sericite","s":"D","x":0.1,"y":1.7},{"p":"Sb","c":"Sericite","s":"D","x":0.3,"y":1.9},{"p":"Sb","c":"Sericite","s":"D","x":0.5,"y":2.1},{"p":"Sb","c":"Sericite","s":"D","x":0.7,"y":2.4},{"p":"Sb","c":"Sericite","s":"D","x":0.9,"y":2.7},{"p":"Sb","c":"Sericite","s":"D","x":1.1,"y":3.0},{"p":"Sb","c":"Sericite","s":"D","x":1.3,"y":3.4},{"p":"Sb","c":"Sericite","s":"D","x":1.5,"y":3.8},{"p":"Sb","c":"Sericite","s":"D","x":1.7,"y":4.4},{"p":"Sb","c":"Sericite","s":"D","x":1.9,"y":5.3},{"p":"Sb","c":"Sericite","s":"D","x":2.05,"y":6.7},{"p":"Sb","c":"Sericite","s":"D","x":2.1,"y":10.5},{"p":"Sb","c":"Sericite","s":"D","x":2.25,"y":15},{"p":"Sb","c":"Sericite","s":"D","x":2.48,"y":29},{"p":"Sb","c":"Sericite","s":"D","x":2.85,"y":33.5},

{"p":"Se","c":"Chlorite","s":"D","x":-0.7,"y":0.5},{"p":"Se","c":"Chlorite","s":"D","x":-0.6,"y":0.8},{"p":"Se","c":"Chlorite","s":"D","x":-0.5,"y":1},{"p":"Se","c":"Chlorite","s":"D","x":-0.4,"y":1.3},{"p":"Se","c":"Chlorite","s":"D","x":-0.3,"y":1.6},{"p":"Se","c":"Chlorite","s":"D","x":-0.2,"y":1.8},{"p":"Se","c":"Chlorite","s":"D","x":-0.1,"y":2.1},{"p":"Se","c":"Chlorite","s":"D","x":0,"y":2.3},{"p":"Se","c":"Chlorite","s":"D","x":0.1,"y":2.5},{"p":"Se","c":"Chlorite","s":"D","x":0.2,"y":2.6},{"p":"Se","c":"Chlorite","s":"D","x":0.3,"y":2.8},{"p":"Se","c":"Chlorite","s":"D","x":0.4,"y":3},{"p":"Se","c":"Chlorite","s":"D","x":0.5,"y":3.2},{"p":"Se","c":"Chlorite","s":"D","x":0.6,"y":3.3},{"p":"Se","c":"Chlorite","s":"D","x":0.7,"y":3.5},{"p":"Se","c":"Chlorite","s":"D","x":0.8,"y":3.7},{"p":"Se","c":"Chlorite","s":"D","x":0.9,"y":3.9},{"p":"Se","c":"Chlorite","s":"D","x":1.0,"y":4.1},{"p":"Se","c":"Chlorite","s":"D","x":1.1,"y":4.3},{"p":"Se","c":"Chlorite","s":"D","x":1.2,"y":4.5},{"p":"Se","c":"Chlorite","s":"D","x":1.3,"y":4.8},{"p":"Se","c":"Chlorite","s":"D","x":1.4,"y":5},{"p":"Se","c":"Chlorite","s":"D","x":1.5,"y":5.3},{"p":"Se","c":"Chlorite","s":"D","x":1.6,"y":5.5},{"p":"Se","c":"Chlorite","s":"D","x":1.7,"y":5.8},{"p":"Se","c":"Chlorite","s":"D","x":1.8,"y":6.2},{"p":"Se","c":"Chlorite","s":"D","x":1.9,"y":6.5},{"p":"Se","c":"Chlorite","s":"D","x":0,"y":1.2},{"p":"Se","c":"Chlorite","s":"D","x":0.3,"y":1.6},{"p":"Se","c":"Chlorite","s":"D","x":0.6,"y":2.2},{"p":"Se","c":"Chlorite","s":"D","x":1.0,"y":2.8},
{"p":"Se","c":"Sericite- Fe Oxide","s":"D","x":0.9,"y":4.2},{"p":"Se","c":"Sericite- Fe Oxide","s":"D","x":1.1,"y":5.2},{"p":"Se","c":"Sericite- Fe Oxide","s":"D","x":1.25,"y":6.3},{"p":"Se","c":"Sericite- Fe Oxide","s":"D","x":1.35,"y":7},{"p":"Se","c":"Sericite- Fe Oxide","s":"D","x":1.42,"y":8.8},{"p":"Se","c":"Sericite- Fe Oxide","s":"D","x":1.47,"y":10},{"p":"Se","c":"Sericite- Fe Oxide","s":"D","x":1.55,"y":11},{"p":"Se","c":"Sericite- Fe Oxide","s":"D","x":1.65,"y":11.8},{"p":"Se","c":"Sericite- Fe Oxide","s":"D","x":1.72,"y":13},{"p":"Se","c":"Sericite- Fe Oxide","s":"D","x":1.8,"y":14.7},{"p":"Se","c":"Sericite- Fe Oxide","s":"D","x":1.9,"y":14.7},{"p":"Se","c":"Sericite- Fe Oxide","s":"D","x":2.05,"y":16.8},{"p":"Se","c":"Sericite- Fe Oxide","s":"D","x":2.22,"y":22.2},{"p":"Se","c":"Sericite- Fe Oxide","s":"D","x":2.65,"y":25},
{"p":"Se","c":"Chlorite- Fe Oxide","s":"D","x":2.1,"y":7},{"p":"Se","c":"Chlorite- Fe Oxide","s":"D","x":2.2,"y":9.3},{"p":"Se","c":"Chlorite- Fe Oxide","s":"D","x":2.38,"y":11.5},{"p":"Se","c":"Chlorite- Fe Oxide","s":"D","x":2.55,"y":12.5},{"p":"Se","c":"Chlorite- Fe Oxide","s":"D","x":2.95,"y":25},
{"p":"Se","c":"Sericite-Chlorite","s":"D","x":-2.7,"y":0.5},{"p":"Se","c":"Sericite-Chlorite","s":"D","x":1.6,"y":5},{"p":"Se","c":"Sericite-Chlorite","s":"D","x":1.8,"y":6},{"p":"Se","c":"Sericite-Chlorite","s":"D","x":2.05,"y":8},{"p":"Se","c":"Sericite-Chlorite","s":"D","x":2.28,"y":9},{"p":"Se","c":"Sericite-Chlorite","s":"D","x":2.75,"y":10.7},
{"p":"Se","c":"NULL","s":"D","x":-0.95,"y":2},{"p":"Se","c":"NULL","s":"D","x":0.95,"y":7.2},
{"p":"Se","c":"Fe Oxide","s":"M","x":-0.65,"y":1.8},{"p":"Se","c":"Fe Oxide","s":"M","x":0.9,"y":6},{"p":"Se","c":"Fe Oxide","s":"M","x":1.1,"y":8},{"p":"Se","c":"Fe Oxide","s":"M","x":2.25,"y":15},
{"p":"Se","c":"Fe Oxide","s":"D","x":0.6,"y":4},{"p":"Se","c":"Fe Oxide","s":"D","x":1.3,"y":8.2},
{"p":"Se","c":"K Feldspar - Fe oxide","s":"D","x":0.68,"y":5.5},{"p":"Se","c":"K Feldspar - Fe oxide","s":"D","x":-2.95,"y":0.3},
{"p":"Se","c":"Amphibole","s":"D","x":0.8,"y":3},{"p":"Se","c":"Amphibole","s":"D","x":1.3,"y":4.8},{"p":"Se","c":"Amphibole","s":"D","x":1.8,"y":7.2},
{"p":"Se","c":"Chlorite - K Feldspar","s":"D","x":0.5,"y":2.5},
{"p":"Se","c":"K Feldspar - Sericite","s":"D","x":2.2,"y":4},{"p":"Se","c":"K Feldspar - Sericite","s":"D","x":2.4,"y":4.7},{"p":"Se","c":"K Feldspar - Sericite","s":"D","x":2.55,"y":5.5},{"p":"Se","c":"K Feldspar - Sericite","s":"D","x":2.9,"y":7},{"p":"Se","c":"K Feldspar - Sericite","s":"D","x":2.98,"y":6.7},
{"p":"Se","c":"Sericite","s":"D","x":-2.8,"y":0.8},{"p":"Se","c":"Sericite","s":"D","x":-2.6,"y":0.8},{"p":"Se","c":"Sericite","s":"D","x":-2.4,"y":0.8},{"p":"Se","c":"Sericite","s":"D","x":-2.2,"y":0.8},{"p":"Se","c":"Sericite","s":"D","x":-2.0,"y":0.8},{"p":"Se","c":"Sericite","s":"D","x":-1.8,"y":0.8},{"p":"Se","c":"Sericite","s":"D","x":-1.6,"y":0.8},{"p":"Se","c":"Sericite","s":"D","x":-1.4,"y":0.8},{"p":"Se","c":"Sericite","s":"D","x":-1.2,"y":0.8},{"p":"Se","c":"Sericite","s":"D","x":-1.0,"y":0.8},{"p":"Se","c":"Sericite","s":"D","x":-0.8,"y":0.8},{"p":"Se","c":"Sericite","s":"D","x":-0.6,"y":0.8},{"p":"Se","c":"Sericite","s":"D","x":-0.4,"y":0.8},{"p":"Se","c":"Sericite","s":"D","x":-0.2,"y":0.8},{"p":"Se","c":"Sericite","s":"D","x":0,"y":0.9},{"p":"Se","c":"Sericite","s":"D","x":0.2,"y":1.4},{"p":"Se","c":"Sericite","s":"D","x":0.4,"y":1.8},{"p":"Se","c":"Sericite","s":"D","x":0.6,"y":2.2},{"p":"Se","c":"Sericite","s":"D","x":0.8,"y":2.6},{"p":"Se","c":"Sericite","s":"D","x":1.0,"y":3},{"p":"Se","c":"Sericite","s":"D","x":1.2,"y":3.3},{"p":"Se","c":"Sericite","s":"D","x":1.4,"y":3.6},{"p":"Se","c":"Sericite","s":"D","x":1.6,"y":4},{"p":"Se","c":"Sericite","s":"D","x":1.8,"y":4.5},{"p":"Se","c":"Sericite","s":"D","x":2.0,"y":5.1},{"p":"Se","c":"Sericite","s":"D","x":2.15,"y":5.3},
{"p":"Se","c":"Sericite","s":"D","x":-2.9,"y":0.3},{"p":"Se","c":"Sericite","s":"D","x":-2.7,"y":0.3},{"p":"Se","c":"Sericite","s":"D","x":-2.5,"y":0.3},{"p":"Se","c":"Sericite","s":"D","x":-2.3,"y":0.3},{"p":"Se","c":"Sericite","s":"D","x":-2.1,"y":0.3},{"p":"Se","c":"Sericite","s":"D","x":-1.9,"y":0.3},{"p":"Se","c":"Sericite","s":"D","x":-1.7,"y":0.3},{"p":"Se","c":"Sericite","s":"D","x":-1.5,"y":0.3},{"p":"Se","c":"Sericite","s":"D","x":-1.3,"y":0.3},{"p":"Se","c":"Sericite","s":"D","x":-1.1,"y":0.3},{"p":"Se","c":"Sericite","s":"D","x":-0.9,"y":0.3},{"p":"Se","c":"Sericite","s":"D","x":-0.7,"y":0.3},{"p":"Se","c":"Sericite","s":"D","x":-0.5,"y":0.3},{"p":"Se","c":"Sericite","s":"D","x":-0.3,"y":0.3},{"p":"Se","c":"Sericite","s":"D","x":-0.1,"y":0.3},{"p":"Se","c":"Sericite","s":"D","x":0.1,"y":0.8},{"p":"Se","c":"Sericite","s":"D","x":0.3,"y":1.2},{"p":"Se","c":"Sericite","s":"D","x":0.5,"y":1.5},{"p":"Se","c":"Sericite","s":"D","x":0.7,"y":1.8},{"p":"Se","c":"Sericite","s":"D","x":0.9,"y":2.2},{"p":"Se","c":"Sericite","s":"D","x":1.1,"y":2.5},{"p":"Se","c":"Sericite","s":"D","x":1.3,"y":2.8},{"p":"Se","c":"Sericite","s":"D","x":1.5,"y":3.1},{"p":"Se","c":"Sericite","s":"D","x":1.7,"y":3.6},{"p":"Se","c":"Sericite","s":"D","x":1.9,"y":4.2},{"p":"Se","c":"Sericite","s":"D","x":2.1,"y":5},{"p":"Se","c":"Sericite","s":"D","x":2.25,"y":6.5},{"p":"Se","c":"Sericite","s":"D","x":2.5,"y":7},{"p":"Se","c":"Sericite","s":"D","x":2.85,"y":7},

{"p":"Te","c":"Chlorite- Fe Oxide","s":"D","x":-2.0,"y":0.3},{"p":"Te","c":"Chlorite- Fe Oxide","s":"D","x":-1.0,"y":0.4},{"p":"Te","c":"Chlorite- Fe Oxide","s":"D","x":0,"y":0.5},{"p":"Te","c":"Chlorite- Fe Oxide","s":"D","x":0.8,"y":0.6},{"p":"Te","c":"Chlorite- Fe Oxide","s":"D","x":1.0,"y":0.8},{"p":"Te","c":"Chlorite- Fe Oxide","s":"D","x":1.08,"y":1},{"p":"Te","c":"Chlorite- Fe Oxide","s":"D","x":1.15,"y":1.2},{"p":"Te","c":"Chlorite- Fe Oxide","s":"D","x":1.22,"y":1.5},{"p":"Te","c":"Chlorite- Fe Oxide","s":"D","x":1.3,"y":1.8},{"p":"Te","c":"Chlorite- Fe Oxide","s":"D","x":1.36,"y":2.2},{"p":"Te","c":"Chlorite- Fe Oxide","s":"D","x":1.42,"y":2.6},{"p":"Te","c":"Chlorite- Fe Oxide","s":"D","x":1.48,"y":3.5},{"p":"Te","c":"Chlorite- Fe Oxide","s":"D","x":1.55,"y":4.5},{"p":"Te","c":"Chlorite- Fe Oxide","s":"D","x":1.58,"y":5},{"p":"Te","c":"Chlorite- Fe Oxide","s":"D","x":1.62,"y":5.5},{"p":"Te","c":"Chlorite- Fe Oxide","s":"D","x":1.66,"y":5.8},{"p":"Te","c":"Chlorite- Fe Oxide","s":"D","x":1.7,"y":6.2},{"p":"Te","c":"Chlorite- Fe Oxide","s":"D","x":1.74,"y":6.6},{"p":"Te","c":"Chlorite- Fe Oxide","s":"D","x":1.78,"y":7},{"p":"Te","c":"Chlorite- Fe Oxide","s":"D","x":1.83,"y":7.2},{"p":"Te","c":"Chlorite- Fe Oxide","s":"D","x":1.88,"y":7.5},{"p":"Te","c":"Chlorite- Fe Oxide","s":"D","x":1.93,"y":7.7},{"p":"Te","c":"Chlorite- Fe Oxide","s":"D","x":1.98,"y":8},{"p":"Te","c":"Chlorite- Fe Oxide","s":"D","x":2.03,"y":8.2},{"p":"Te","c":"Chlorite- Fe Oxide","s":"D","x":2.08,"y":8.4},{"p":"Te","c":"Chlorite- Fe Oxide","s":"D","x":2.2,"y":11.5},{"p":"Te","c":"Chlorite- Fe Oxide","s":"D","x":2.32,"y":14.5},{"p":"Te","c":"Chlorite- Fe Oxide","s":"D","x":2.55,"y":29},{"p":"Te","c":"Chlorite- Fe Oxide","s":"D","x":2.85,"y":31.7},
{"p":"Te","c":"Sericite- Fe Oxide","s":"D","x":1.5,"y":1.5},{"p":"Te","c":"Sericite- Fe Oxide","s":"D","x":1.58,"y":1.9},{"p":"Te","c":"Sericite- Fe Oxide","s":"D","x":1.65,"y":2.2},{"p":"Te","c":"Sericite- Fe Oxide","s":"D","x":1.72,"y":2.4},{"p":"Te","c":"Sericite- Fe Oxide","s":"D","x":1.78,"y":2.6},{"p":"Te","c":"Sericite- Fe Oxide","s":"D","x":1.84,"y":2.8},{"p":"Te","c":"Sericite- Fe Oxide","s":"D","x":1.9,"y":3},{"p":"Te","c":"Sericite- Fe Oxide","s":"D","x":1.96,"y":3.1},{"p":"Te","c":"Sericite- Fe Oxide","s":"D","x":2.02,"y":3.3},{"p":"Te","c":"Sericite- Fe Oxide","s":"D","x":2.06,"y":3.4},{"p":"Te","c":"Sericite- Fe Oxide","s":"D","x":2.1,"y":3.5},{"p":"Te","c":"Sericite- Fe Oxide","s":"D","x":2.25,"y":5.5},{"p":"Te","c":"Sericite- Fe Oxide","s":"D","x":2.65,"y":10},
{"p":"Te","c":"Chlorite","s":"D","x":1.85,"y":5},{"p":"Te","c":"K Feldspar - Sericite","s":"D","x":2.95,"y":2.7},
{"p":"Te","c":"Sericite-Chlorite","s":"D","x":-2.7,"y":0},{"p":"Te","c":"Sericite-Chlorite","s":"D","x":2.75,"y":0},{"p":"Te","c":"K Feldspar - Fe oxide","s":"D","x":-2.95,"y":0},
{"p":"Te","c":"Sericite","s":"D","x":-2.8,"y":0.4},{"p":"Te","c":"Sericite","s":"D","x":-2.6,"y":0.4},{"p":"Te","c":"Sericite","s":"D","x":-2.4,"y":0.4},{"p":"Te","c":"Sericite","s":"D","x":-2.2,"y":0.5},{"p":"Te","c":"Sericite","s":"D","x":-2.0,"y":0.5},{"p":"Te","c":"Sericite","s":"D","x":-1.8,"y":0.5},{"p":"Te","c":"Sericite","s":"D","x":-1.6,"y":0.5},{"p":"Te","c":"Sericite","s":"D","x":-1.4,"y":0.6},{"p":"Te","c":"Sericite","s":"D","x":-1.2,"y":0.6},{"p":"Te","c":"Sericite","s":"D","x":-1.0,"y":0.6},{"p":"Te","c":"Sericite","s":"D","x":-0.8,"y":0.6},{"p":"Te","c":"Sericite","s":"D","x":-0.6,"y":0.7},{"p":"Te","c":"Sericite","s":"D","x":-0.4,"y":0.7},{"p":"Te","c":"Sericite","s":"D","x":-0.2,"y":0.7},{"p":"Te","c":"Sericite","s":"D","x":0,"y":0.7},{"p":"Te","c":"Sericite","s":"D","x":0.2,"y":0.8},{"p":"Te","c":"Sericite","s":"D","x":0.4,"y":0.8},{"p":"Te","c":"Sericite","s":"D","x":0.6,"y":0.8},{"p":"Te","c":"Sericite","s":"D","x":0.8,"y":0.9},{"p":"Te","c":"Sericite","s":"D","x":1.0,"y":0.9},{"p":"Te","c":"Sericite","s":"D","x":1.2,"y":0.9},{"p":"Te","c":"Sericite","s":"D","x":1.4,"y":1.0},{"p":"Te","c":"Sericite","s":"D","x":1.6,"y":1.0},{"p":"Te","c":"Sericite","s":"D","x":1.8,"y":1.1},{"p":"Te","c":"Sericite","s":"D","x":2.0,"y":1.2},{"p":"Te","c":"Sericite","s":"D","x":2.2,"y":1.3},
{"p":"Te","c":"Sericite","s":"D","x":-2.9,"y":0},{"p":"Te","c":"Sericite","s":"D","x":-2.7,"y":0},{"p":"Te","c":"Sericite","s":"D","x":-2.5,"y":0},{"p":"Te","c":"Sericite","s":"D","x":-2.3,"y":0},{"p":"Te","c":"Sericite","s":"D","x":-2.1,"y":0},{"p":"Te","c":"Sericite","s":"D","x":-1.9,"y":0},{"p":"Te","c":"Sericite","s":"D","x":-1.7,"y":0},{"p":"Te","c":"Sericite","s":"D","x":-1.5,"y":0.1},{"p":"Te","c":"Sericite","s":"D","x":-1.3,"y":0.1},{"p":"Te","c":"Sericite","s":"D","x":-1.1,"y":0.1},{"p":"Te","c":"Sericite","s":"D","x":-0.9,"y":0.2},{"p":"Te","c":"Sericite","s":"D","x":-0.7,"y":0.2},{"p":"Te","c":"Sericite","s":"D","x":-0.5,"y":0.2},{"p":"Te","c":"Sericite","s":"D","x":-0.3,"y":0.2},{"p":"Te","c":"Sericite","s":"D","x":-0.1,"y":0.3},{"p":"Te","c":"Sericite","s":"D","x":0.1,"y":0.3},{"p":"Te","c":"Sericite","s":"D","x":0.3,"y":0.3},{"p":"Te","c":"Sericite","s":"D","x":0.5,"y":0.3},{"p":"Te","c":"Sericite","s":"D","x":0.7,"y":0.4},{"p":"Te","c":"Sericite","s":"D","x":0.9,"y":0.4},{"p":"Te","c":"Sericite","s":"D","x":1.1,"y":0.4},{"p":"Te","c":"Sericite","s":"D","x":1.3,"y":0.4},{"p":"Te","c":"Sericite","s":"D","x":1.5,"y":0.5},{"p":"Te","c":"Sericite","s":"D","x":1.7,"y":0.5},{"p":"Te","c":"Sericite","s":"D","x":1.9,"y":0.6},{"p":"Te","c":"Sericite","s":"D","x":2.1,"y":0.7},{"p":"Te","c":"Sericite","s":"D","x":2.3,"y":0.8},{"p":"Te","c":"Sericite","s":"D","x":2.5,"y":0.9},{"p":"Te","c":"Sericite","s":"D","x":2.7,"y":1.5},

{"p":"W","c":"Fe Oxide","s":"D","x":-1.1,"y":3},{"p":"W","c":"Fe Oxide","s":"D","x":-0.9,"y":6},{"p":"W","c":"Fe Oxide","s":"D","x":-0.8,"y":9},{"p":"W","c":"Fe Oxide","s":"D","x":-0.7,"y":12},{"p":"W","c":"Fe Oxide","s":"D","x":-0.6,"y":16},{"p":"W","c":"Fe Oxide","s":"D","x":-0.5,"y":20},{"p":"W","c":"Fe Oxide","s":"D","x":-0.4,"y":25},{"p":"W","c":"Fe Oxide","s":"D","x":-0.35,"y":30},{"p":"W","c":"Fe Oxide","s":"D","x":-0.2,"y":38},{"p":"W","c":"Fe Oxide","s":"D","x":-0.1,"y":42},{"p":"W","c":"Fe Oxide","s":"D","x":0,"y":45},{"p":"W","c":"Fe Oxide","s":"D","x":0.1,"y":50},{"p":"W","c":"Fe Oxide","s":"D","x":0.15,"y":55},{"p":"W","c":"Fe Oxide","s":"D","x":0.25,"y":60},{"p":"W","c":"Fe Oxide","s":"D","x":0.3,"y":65},{"p":"W","c":"Fe Oxide","s":"D","x":0.4,"y":72},{"p":"W","c":"Fe Oxide","s":"D","x":0.45,"y":80},{"p":"W","c":"Fe Oxide","s":"D","x":0.5,"y":88},{"p":"W","c":"Fe Oxide","s":"D","x":0.55,"y":95},{"p":"W","c":"Fe Oxide","s":"D","x":0.6,"y":105},{"p":"W","c":"Fe Oxide","s":"D","x":0.65,"y":115},{"p":"W","c":"Fe Oxide","s":"D","x":0.7,"y":130},
{"p":"W","c":"Fe Oxide","s":"M","x":0.75,"y":170},{"p":"W","c":"Fe Oxide","s":"M","x":0.85,"y":180},{"p":"W","c":"Fe Oxide","s":"M","x":0.95,"y":200},{"p":"W","c":"Fe Oxide","s":"M","x":1.02,"y":210},{"p":"W","c":"Fe Oxide","s":"M","x":1.1,"y":235},{"p":"W","c":"Fe Oxide","s":"M","x":1.2,"y":245},{"p":"W","c":"Fe Oxide","s":"M","x":1.28,"y":255},{"p":"W","c":"Fe Oxide","s":"M","x":1.5,"y":280},{"p":"W","c":"Fe Oxide","s":"M","x":1.72,"y":280},{"p":"W","c":"Fe Oxide","s":"M","x":2.25,"y":292},{"p":"W","c":"Fe Oxide","s":"M","x":2.35,"y":440},{"p":"W","c":"Fe Oxide","s":"M","x":2.92,"y":305},
{"p":"W","c":"Sericite- Fe Oxide","s":"D","x":0.3,"y":20},{"p":"W","c":"Sericite- Fe Oxide","s":"D","x":0.45,"y":28},{"p":"W","c":"Sericite- Fe Oxide","s":"D","x":0.6,"y":35},{"p":"W","c":"Sericite- Fe Oxide","s":"D","x":0.75,"y":45},{"p":"W","c":"Sericite- Fe Oxide","s":"D","x":0.9,"y":55},{"p":"W","c":"Sericite- Fe Oxide","s":"D","x":1.0,"y":65},{"p":"W","c":"Sericite- Fe Oxide","s":"D","x":1.1,"y":75},{"p":"W","c":"Sericite- Fe Oxide","s":"D","x":1.18,"y":82},{"p":"W","c":"Sericite- Fe Oxide","s":"D","x":1.25,"y":90},{"p":"W","c":"Sericite- Fe Oxide","s":"D","x":1.33,"y":97},{"p":"W","c":"Sericite- Fe Oxide","s":"D","x":1.4,"y":105},{"p":"W","c":"Sericite- Fe Oxide","s":"D","x":1.48,"y":115},{"p":"W","c":"Sericite- Fe Oxide","s":"D","x":1.55,"y":125},{"p":"W","c":"Sericite- Fe Oxide","s":"D","x":1.62,"y":135},{"p":"W","c":"Sericite- Fe Oxide","s":"D","x":1.7,"y":150},{"p":"W","c":"Sericite- Fe Oxide","s":"D","x":1.75,"y":158},{"p":"W","c":"Sericite- Fe Oxide","s":"D","x":1.8,"y":165},{"p":"W","c":"Sericite- Fe Oxide","s":"D","x":1.85,"y":170},{"p":"W","c":"Sericite- Fe Oxide","s":"D","x":1.9,"y":175},{"p":"W","c":"Sericite- Fe Oxide","s":"D","x":2.05,"y":195},{"p":"W","c":"Sericite- Fe Oxide","s":"D","x":2.75,"y":580},
{"p":"W","c":"Chlorite- Fe Oxide","s":"D","x":0.9,"y":30},{"p":"W","c":"Chlorite- Fe Oxide","s":"D","x":1.0,"y":38},{"p":"W","c":"Chlorite- Fe Oxide","s":"D","x":1.1,"y":45},{"p":"W","c":"Chlorite- Fe Oxide","s":"D","x":1.2,"y":55},{"p":"W","c":"Chlorite- Fe Oxide","s":"D","x":1.3,"y":65},{"p":"W","c":"Chlorite- Fe Oxide","s":"D","x":1.38,"y":72},{"p":"W","c":"Chlorite- Fe Oxide","s":"D","x":1.45,"y":80},{"p":"W","c":"Chlorite- Fe Oxide","s":"D","x":1.52,"y":90},{"p":"W","c":"Chlorite- Fe Oxide","s":"D","x":1.6,"y":100},{"p":"W","c":"Chlorite- Fe Oxide","s":"D","x":1.68,"y":112},{"p":"W","c":"Chlorite- Fe Oxide","s":"D","x":1.75,"y":125},{"p":"W","c":"Chlorite- Fe Oxide","s":"D","x":1.82,"y":132},{"p":"W","c":"Chlorite- Fe Oxide","s":"D","x":1.9,"y":140},{"p":"W","c":"Chlorite- Fe Oxide","s":"D","x":1.95,"y":145},{"p":"W","c":"Chlorite- Fe Oxide","s":"D","x":2.0,"y":150},{"p":"W","c":"Chlorite- Fe Oxide","s":"D","x":2.05,"y":155},{"p":"W","c":"Chlorite- Fe Oxide","s":"D","x":2.1,"y":158},{"p":"W","c":"Chlorite- Fe Oxide","s":"D","x":2.3,"y":185},{"p":"W","c":"Chlorite- Fe Oxide","s":"D","x":2.5,"y":188},{"p":"W","c":"Chlorite- Fe Oxide","s":"D","x":2.7,"y":185},
{"p":"W","c":"Amphibole","s":"D","x":1.8,"y":60},{"p":"W","c":"Chlorite","s":"D","x":1.88,"y":58},{"p":"W","c":"Chlorite - K Feldspar","s":"D","x":2.3,"y":20},
{"p":"W","c":"K Feldspar - Sericite","s":"D","x":2.1,"y":30},{"p":"W","c":"K Feldspar - Sericite","s":"D","x":2.25,"y":45},{"p":"W","c":"K Feldspar - Sericite","s":"D","x":2.35,"y":60},{"p":"W","c":"K Feldspar - Sericite","s":"D","x":2.5,"y":80},{"p":"W","c":"K Feldspar - Sericite","s":"D","x":2.6,"y":90},{"p":"W","c":"K Feldspar - Sericite","s":"D","x":2.95,"y":130},
{"p":"W","c":"Sericite-Chlorite","s":"D","x":-2.7,"y":0},{"p":"W","c":"Sericite-Chlorite","s":"D","x":2.75,"y":45},{"p":"W","c":"K Feldspar - Fe oxide","s":"D","x":-2.95,"y":0},
{"p":"W","c":"Sericite","s":"D","x":-2.8,"y":6},{"p":"W","c":"Sericite","s":"D","x":-2.6,"y":6},{"p":"W","c":"Sericite","s":"D","x":-2.4,"y":7},{"p":"W","c":"Sericite","s":"D","x":-2.2,"y":7},{"p":"W","c":"Sericite","s":"D","x":-2.0,"y":8},{"p":"W","c":"Sericite","s":"D","x":-1.8,"y":8},{"p":"W","c":"Sericite","s":"D","x":-1.6,"y":9},{"p":"W","c":"Sericite","s":"D","x":-1.4,"y":9},{"p":"W","c":"Sericite","s":"D","x":-1.2,"y":10},{"p":"W","c":"Sericite","s":"D","x":-1.0,"y":10},{"p":"W","c":"Sericite","s":"D","x":-0.8,"y":11},{"p":"W","c":"Sericite","s":"D","x":-0.6,"y":11},{"p":"W","c":"Sericite","s":"D","x":-0.4,"y":12},{"p":"W","c":"Sericite","s":"D","x":-0.2,"y":12},{"p":"W","c":"Sericite","s":"D","x":0,"y":13},{"p":"W","c":"Sericite","s":"D","x":0.2,"y":13},{"p":"W","c":"Sericite","s":"D","x":0.4,"y":14},{"p":"W","c":"Sericite","s":"D","x":0.6,"y":14},{"p":"W","c":"Sericite","s":"D","x":0.8,"y":15},{"p":"W","c":"Sericite","s":"D","x":1.0,"y":16},{"p":"W","c":"Sericite","s":"D","x":1.2,"y":17},{"p":"W","c":"Sericite","s":"D","x":1.4,"y":18},{"p":"W","c":"Sericite","s":"D","x":1.6,"y":19},{"p":"W","c":"Sericite","s":"D","x":1.8,"y":20},{"p":"W","c":"Sericite","s":"D","x":2.0,"y":22},{"p":"W","c":"Sericite","s":"D","x":2.2,"y":28},
{"p":"W","c":"Sericite","s":"D","x":-2.9,"y":0},{"p":"W","c":"Sericite","s":"D","x":-2.7,"y":0},{"p":"W","c":"Sericite","s":"D","x":-2.5,"y":0},{"p":"W","c":"Sericite","s":"D","x":-2.3,"y":0},{"p":"W","c":"Sericite","s":"D","x":-2.1,"y":0},{"p":"W","c":"Sericite","s":"D","x":-1.9,"y":0},{"p":"W","c":"Sericite","s":"D","x":-1.7,"y":0.5},{"p":"W","c":"Sericite","s":"D","x":-1.5,"y":1},{"p":"W","c":"Sericite","s":"D","x":-1.3,"y":1},{"p":"W","c":"Sericite","s":"D","x":-1.1,"y":1.5},{"p":"W","c":"Sericite","s":"D","x":-0.9,"y":2},{"p":"W","c":"Sericite","s":"D","x":-0.7,"y":2},{"p":"W","c":"Sericite","s":"D","x":-0.5,"y":2.5},{"p":"W","c":"Sericite","s":"D","x":-0.3,"y":3},{"p":"W","c":"Sericite","s":"D","x":-0.1,"y":3.5},{"p":"W","c":"Sericite","s":"D","x":0.1,"y":4},{"p":"W","c":"Sericite","s":"D","x":0.3,"y":4.5},{"p":"W","c":"Sericite","s":"D","x":0.5,"y":5},{"p":"W","c":"Sericite","s":"D","x":0.7,"y":5.5},{"p":"W","c":"Sericite","s":"D","x":0.9,"y":6},{"p":"W","c":"Sericite","s":"D","x":1.1,"y":7},{"p":"W","c":"Sericite","s":"D","x":1.3,"y":8},{"p":"W","c":"Sericite","s":"D","x":1.5,"y":9},{"p":"W","c":"Sericite","s":"D","x":1.7,"y":10},{"p":"W","c":"Sericite","s":"D","x":1.9,"y":12},{"p":"W","c":"Sericite","s":"D","x":2.1,"y":18},{"p":"W","c":"Sericite","s":"D","x":2.3,"y":25},{"p":"W","c":"Sericite","s":"D","x":2.5,"y":45},{"p":"W","c":"Sericite","s":"D","x":2.85,"y":55}
]},
"concat":[
{"title":"As_ppm","width":290,"height":196,
 "encoding":{"y":{"field":"y","type":"quantitative","title":"As_ppm","scale":{"domain":[-130,4080],"nice":false,"zero":false},"axis":{"values":[0,500,1000,1500,2000,2500,3000,3500,4000],"format":",d"}}},
 "layer":[
  {"data":{"name":"thr"},"transform":[{"filter":"datum.p=='As'"}],"mark":{"type":"rule","color":"#2b4c8f","strokeDash":[7,4],"strokeWidth":1.5},"encoding":{}},
  {"data":{"name":"pts"},"transform":[{"filter":"datum.p=='As'"}],"mark":{"type":"point","filled":true,"opacity":1,"size":75,"strokeWidth":0},
   "encoding":{"x":{"field":"x","type":"quantitative","title":"Normal Score","scale":{"domain":[-3.15,3.15],"nice":false,"zero":false},"axis":{"values":[-3,-2.5,-2,-1.5,-1,-0.5,0,0.5,1,1.5,2,2.5,3],"format":".1f"}},
    "color":{"field":"c","type":"nominal","scale":{"domain":["Sericite","Chlorite","Amphibole","Chlorite-Amphibole-Fe Oxide","Sericite-Chlorite","NULL","Chlorite- Fe Oxide","Sericite- Fe Oxide","Fe Oxide","K Feldspar - Sericite","Chlorite - K Feldspar","K Feldspar - Fe oxide"],"range":["#ee1c1c","#33ee33","#1414d8","#1a6e1a","#f5f51a","#000000","#0f7a70","#6e1c0c","#7a7a7a","#f51af5","#6e6e14","#6e1480"]},
     "legend":{"title":"Colour","orient":"none","legendX":736,"legendY":508,"strokeColor":"#cccccc","cornerRadius":4,"padding":6,"titleFontSize":10,"titleFontWeight":"normal","titleColor":"#333","titlePadding":2,"labelFontSize":11.5,"labelColor":"#000","symbolSize":100,"symbolType":"circle","symbolStrokeWidth":0,"symbolOpacity":1,"rowPadding":7,"labelLimit":220}},
    "shape":{"field":"s","type":"nominal","scale":{"domain":["D","M"],"range":["circle","M-1,0A1,1,0,1,1,1,0A1,1,0,1,1,-1,0ZM-0.7,0A0.7,0.7,0,1,0,0.7,0A0.7,0.7,0,1,0,-0.7,0Z"]},
     "legend":{"title":"Shape","orient":"none","legendX":736,"legendY":776,"strokeColor":"#cccccc","cornerRadius":4,"padding":6,"titleFontSize":10,"titleFontWeight":"normal","titleColor":"#333","titlePadding":2,"labelFontSize":11.5,"labelColor":"#000","symbolSize":100,"symbolFillColor":"#000000","symbolStrokeWidth":0,"symbolOpacity":1,"rowPadding":7,"labelExpr":"datum.value=='M'?'magnetite-rich':'Default Shape'"}}}}
 ]},
{"title":"Bi_ppm","width":290,"height":196,
 "encoding":{"y":{"field":"y","type":"quantitative","title":"Bi_ppm","scale":{"domain":[-18,228],"nice":false,"zero":false},"axis":{"values":[0,25,50,75,100,125,150,175,200,225],"format":"d"}}},
 "layer":[
  {"data":{"name":"thr"},"transform":[{"filter":"datum.p=='Bi'"}],"mark":{"type":"rule","color":"#2b4c8f","strokeDash":[7,4],"strokeWidth":1.5},"encoding":{}},
  {"data":{"name":"pts"},"transform":[{"filter":"datum.p=='Bi'"}],"mark":{"type":"point","filled":true,"opacity":1,"size":75,"strokeWidth":0},
   "encoding":{"x":{"field":"x","type":"quantitative","title":"Normal Score","scale":{"domain":[-3.15,3.15],"nice":false,"zero":false},"axis":{"values":[-3,-2.5,-2,-1.5,-1,-0.5,0,0.5,1,1.5,2,2.5,3],"format":".1f"}},
    "color":{"field":"c","type":"nominal","scale":{"domain":["Sericite","Chlorite","Amphibole","Chlorite-Amphibole-Fe Oxide","Sericite-Chlorite","NULL","Chlorite- Fe Oxide","Sericite- Fe Oxide","Fe Oxide","K Feldspar - Sericite","Chlorite - K Feldspar","K Feldspar - Fe oxide"],"range":["#ee1c1c","#33ee33","#1414d8","#1a6e1a","#f5f51a","#000000","#0f7a70","#6e1c0c","#7a7a7a","#f51af5","#6e6e14","#6e1480"]},
     "legend":{"title":"Colour","orient":"none","legendX":736,"legendY":508,"strokeColor":"#cccccc","cornerRadius":4,"padding":6,"titleFontSize":10,"titleFontWeight":"normal","titleColor":"#333","titlePadding":2,"labelFontSize":11.5,"labelColor":"#000","symbolSize":100,"symbolType":"circle","symbolStrokeWidth":0,"symbolOpacity":1,"rowPadding":7,"labelLimit":220}},
    "shape":{"field":"s","type":"nominal","scale":{"domain":["D","M"],"range":["circle","M-1,0A1,1,0,1,1,1,0A1,1,0,1,1,-1,0ZM-0.7,0A0.7,0.7,0,1,0,0.7,0A0.7,0.7,0,1,0,-0.7,0Z"]},
     "legend":{"title":"Shape","orient":"none","legendX":736,"legendY":776,"strokeColor":"#cccccc","cornerRadius":4,"padding":6,"titleFontSize":10,"titleFontWeight":"normal","titleColor":"#333","titlePadding":2,"labelFontSize":11.5,"labelColor":"#000","symbolSize":100,"symbolFillColor":"#000000","symbolStrokeWidth":0,"symbolOpacity":1,"rowPadding":7,"labelExpr":"datum.value=='M'?'magnetite-rich':'Default Shape'"}}}}
 ]},
{"title":"Co_ppm","width":283,"height":196,
 "encoding":{"y":{"field":"y","type":"quantitative","title":"Co_ppm","scale":{"domain":[-140,3080],"nice":false,"zero":false},"axis":{"values":[0,250,500,750,1000,1250,1500,1750,2000,2250,2500,2750,3000],"format":",d"}}},
 "layer":[
  {"data":{"name":"thr"},"transform":[{"filter":"datum.p=='Co'"}],"mark":{"type":"rule","color":"#2b4c8f","strokeDash":[7,4],"strokeWidth":1.5},"encoding":{}},
  {"data":{"name":"pts"},"transform":[{"filter":"datum.p=='Co'"}],"mark":{"type":"point","filled":true,"opacity":1,"size":75,"strokeWidth":0},
   "encoding":{"x":{"field":"x","type":"quantitative","title":"Normal Score","scale":{"domain":[-3.15,3.15],"nice":false,"zero":false},"axis":{"values":[-3,-2.5,-2,-1.5,-1,-0.5,0,0.5,1,1.5,2,2.5,3],"format":".1f"}},
    "color":{"field":"c","type":"nominal","scale":{"domain":["Sericite","Chlorite","Amphibole","Chlorite-Amphibole-Fe Oxide","Sericite-Chlorite","NULL","Chlorite- Fe Oxide","Sericite- Fe Oxide","Fe Oxide","K Feldspar - Sericite","Chlorite - K Feldspar","K Feldspar - Fe oxide"],"range":["#ee1c1c","#33ee33","#1414d8","#1a6e1a","#f5f51a","#000000","#0f7a70","#6e1c0c","#7a7a7a","#f51af5","#6e6e14","#6e1480"]},
     "legend":{"title":"Colour","orient":"none","legendX":736,"legendY":508,"strokeColor":"#cccccc","cornerRadius":4,"padding":6,"titleFontSize":10,"titleFontWeight":"normal","titleColor":"#333","titlePadding":2,"labelFontSize":11.5,"labelColor":"#000","symbolSize":100,"symbolType":"circle","symbolStrokeWidth":0,"symbolOpacity":1,"rowPadding":7,"labelLimit":220}},
    "shape":{"field":"s","type":"nominal","scale":{"domain":["D","M"],"range":["circle","M-1,0A1,1,0,1,1,1,0A1,1,0,1,1,-1,0ZM-0.7,0A0.7,0.7,0,1,0,0.7,0A0.7,0.7,0,1,0,-0.7,0Z"]},
     "legend":{"title":"Shape","orient":"none","legendX":736,"legendY":776,"strokeColor":"#cccccc","cornerRadius":4,"padding":6,"titleFontSize":10,"titleFontWeight":"normal","titleColor":"#333","titlePadding":2,"labelFontSize":11.5,"labelColor":"#000","symbolSize":100,"symbolFillColor":"#000000","symbolStrokeWidth":0,"symbolOpacity":1,"rowPadding":7,"labelExpr":"datum.value=='M'?'magnetite-rich':'Default Shape'"}}}}
 ]},
{"title":"Mo_ppm","width":290,"height":196,
 "encoding":{"y":{"field":"y","type":"quantitative","title":"Mo_ppm","scale":{"domain":[-15,315],"nice":false,"zero":false},"axis":{"values":[0,25,50,75,100,125,150,175,200,225,250,275,300],"format":"d"}}},
 "layer":[
  {"data":{"name":"thr"},"transform":[{"filter":"datum.p=='Mo'"}],"mark":{"type":"rule","color":"#2b4c8f","strokeDash":[7,4],"strokeWidth":1.5},"encoding":{}},
  {"data":{"name":"pts"},"transform":[{"filter":"datum.p=='Mo'"}],"mark":{"type":"point","filled":true,"opacity":1,"size":75,"strokeWidth":0},
   "encoding":{"x":{"field":"x","type":"quantitative","title":"Normal Score","scale":{"domain":[-3.15,3.15],"nice":false,"zero":false},"axis":{"values":[-3,-2.5,-2,-1.5,-1,-0.5,0,0.5,1,1.5,2,2.5,3],"format":".1f"}},
    "color":{"field":"c","type":"nominal","scale":{"domain":["Sericite","Chlorite","Amphibole","Chlorite-Amphibole-Fe Oxide","Sericite-Chlorite","NULL","Chlorite- Fe Oxide","Sericite- Fe Oxide","Fe Oxide","K Feldspar - Sericite","Chlorite - K Feldspar","K Feldspar - Fe oxide"],"range":["#ee1c1c","#33ee33","#1414d8","#1a6e1a","#f5f51a","#000000","#0f7a70","#6e1c0c","#7a7a7a","#f51af5","#6e6e14","#6e1480"]},
     "legend":{"title":"Colour","orient":"none","legendX":736,"legendY":508,"strokeColor":"#cccccc","cornerRadius":4,"padding":6,"titleFontSize":10,"titleFontWeight":"normal","titleColor":"#333","titlePadding":2,"labelFontSize":11.5,"labelColor":"#000","symbolSize":100,"symbolType":"circle","symbolStrokeWidth":0,"symbolOpacity":1,"rowPadding":7,"labelLimit":220}},
    "shape":{"field":"s","type":"nominal","scale":{"domain":["D","M"],"range":["circle","M-1,0A1,1,0,1,1,1,0A1,1,0,1,1,-1,0ZM-0.7,0A0.7,0.7,0,1,0,0.7,0A0.7,0.7,0,1,0,-0.7,0Z"]},
     "legend":{"title":"Shape","orient":"none","legendX":736,"legendY":776,"strokeColor":"#cccccc","cornerRadius":4,"padding":6,"titleFontSize":10,"titleFontWeight":"normal","titleColor":"#333","titlePadding":2,"labelFontSize":11.5,"labelColor":"#000","symbolSize":100,"symbolFillColor":"#000000","symbolStrokeWidth":0,"symbolOpacity":1,"rowPadding":7,"labelExpr":"datum.value=='M'?'magnetite-rich':'Default Shape'"}}}}
 ]},
{"title":"Sb_ppm","width":290,"height":196,
 "encoding":{"y":{"field":"y","type":"quantitative","title":"Sb_ppm","scale":{"domain":[-1.2,35],"nice":false,"zero":false},"axis":{"values":[0,5,10,15,20,25,30],"format":"d"}}},
 "layer":[
  {"data":{"name":"thr"},"transform":[{"filter":"datum.p=='Sb'"}],"mark":{"type":"rule","color":"#2b4c8f","strokeDash":[7,4],"strokeWidth":1.5},"encoding":{}},
  {"data":{"name":"pts"},"transform":[{"filter":"datum.p=='Sb'"}],"mark":{"type":"point","filled":true,"opacity":1,"size":75,"strokeWidth":0},
   "encoding":{"x":{"field":"x","type":"quantitative","title":"Normal Score","scale":{"domain":[-3.15,3.15],"nice":false,"zero":false},"axis":{"values":[-3,-2.5,-2,-1.5,-1,-0.5,0,0.5,1,1.5,2,2.5,3],"format":".1f"}},
    "color":{"field":"c","type":"nominal","scale":{"domain":["Sericite","Chlorite","Amphibole","Chlorite-Amphibole-Fe Oxide","Sericite-Chlorite","NULL","Chlorite- Fe Oxide","Sericite- Fe Oxide","Fe Oxide","K Feldspar - Sericite","Chlorite - K Feldspar","K Feldspar - Fe oxide"],"range":["#ee1c1c","#33ee33","#1414d8","#1a6e1a","#f5f51a","#000000","#0f7a70","#6e1c0c","#7a7a7a","#f51af5","#6e6e14","#6e1480"]},
     "legend":{"title":"Colour","orient":"none","legendX":736,"legendY":508,"strokeColor":"#cccccc","cornerRadius":4,"padding":6,"titleFontSize":10,"titleFontWeight":"normal","titleColor":"#333","titlePadding":2,"labelFontSize":11.5,"labelColor":"#000","symbolSize":100,"symbolType":"circle","symbolStrokeWidth":0,"symbolOpacity":1,"rowPadding":7,"labelLimit":220}},
    "shape":{"field":"s","type":"nominal","scale":{"domain":["D","M"],"range":["circle","M-1,0A1,1,0,1,1,1,0A1,1,0,1,1,-1,0ZM-0.7,0A0.7,0.7,0,1,0,0.7,0A0.7,0.7,0,1,0,-0.7,0Z"]},
     "legend":{"title":"Shape","orient":"none","legendX":736,"legendY":776,"strokeColor":"#cccccc","cornerRadius":4,"padding":6,"titleFontSize":10,"titleFontWeight":"normal","titleColor":"#333","titlePadding":2,"labelFontSize":11.5,"labelColor":"#000","symbolSize":100,"symbolFillColor":"#000000","symbolStrokeWidth":0,"symbolOpacity":1,"rowPadding":7,"labelExpr":"datum.value=='M'?'magnetite-rich':'Default Shape'"}}}}
 ]},
{"title":"Se_ppm","width":283,"height":196,
 "encoding":{"y":{"field":"y","type":"quantitative","title":"Se_ppm","scale":{"domain":[-0.8,25.6],"nice":false,"zero":false},"axis":{"values":[0,2.5,5,7.5,10,12.5,15,17.5,20,22.5,25],"format":".1f"}}},
 "layer":[
  {"data":{"name":"thr"},"transform":[{"filter":"datum.p=='Se'"}],"mark":{"type":"rule","color":"#2b4c8f","strokeDash":[7,4],"strokeWidth":1.5},"encoding":{}},
  {"data":{"name":"pts"},"transform":[{"filter":"datum.p=='Se'"}],"mark":{"type":"point","filled":true,"opacity":1,"size":75,"strokeWidth":0},
   "encoding":{"x":{"field":"x","type":"quantitative","title":"Normal Score","scale":{"domain":[-3.15,3.15],"nice":false,"zero":false},"axis":{"values":[-3,-2.5,-2,-1.5,-1,-0.5,0,0.5,1,1.5,2,2.5,3],"format":".1f"}},
    "color":{"field":"c","type":"nominal","scale":{"domain":["Sericite","Chlorite","Amphibole","Chlorite-Amphibole-Fe Oxide","Sericite-Chlorite","NULL","Chlorite- Fe Oxide","Sericite- Fe Oxide","Fe Oxide","K Feldspar - Sericite","Chlorite - K Feldspar","K Feldspar - Fe oxide"],"range":["#ee1c1c","#33ee33","#1414d8","#1a6e1a","#f5f51a","#000000","#0f7a70","#6e1c0c","#7a7a7a","#f51af5","#6e6e14","#6e1480"]},
     "legend":{"title":"Colour","orient":"none","legendX":736,"legendY":508,"strokeColor":"#cccccc","cornerRadius":4,"padding":6,"titleFontSize":10,"titleFontWeight":"normal","titleColor":"#333","titlePadding":2,"labelFontSize":11.5,"labelColor":"#000","symbolSize":100,"symbolType":"circle","symbolStrokeWidth":0,"symbolOpacity":1,"rowPadding":7,"labelLimit":220}},
    "shape":{"field":"s","type":"nominal","scale":{"domain":["D","M"],"range":["circle","M-1,0A1,1,0,1,1,1,0A1,1,0,1,1,-1,0ZM-0.7,0A0.7,0.7,0,1,0,0.7,0A0.7,0.7,0,1,0,-0.7,0Z"]},
     "legend":{"title":"Shape","orient":"none","legendX":736,"legendY":776,"strokeColor":"#cccccc","cornerRadius":4,"padding":6,"titleFontSize":10,"titleFontWeight":"normal","titleColor":"#333","titlePadding":2,"labelFontSize":11.5,"labelColor":"#000","symbolSize":100,"symbolFillColor":"#000000","symbolStrokeWidth":0,"symbolOpacity":1,"rowPadding":7,"labelExpr":"datum.value=='M'?'magnetite-rich':'Default Shape'"}}}}
 ]},
{"title":"Te_ppm","width":290,"height":196,
 "encoding":{"y":{"field":"y","type":"quantitative","title":"Te_ppm","scale":{"domain":[-1.2,33],"nice":false,"zero":false},"axis":{"values":[0,2.5,5,7.5,10,12.5,15,17.5,20,22.5,25,27.5,30,32.5],"format":".1f"}}},
 "layer":[
  {"data":{"name":"thr"},"transform":[{"filter":"datum.p=='Te'"}],"mark":{"type":"rule","color":"#2b4c8f","strokeDash":[7,4],"strokeWidth":1.5},"encoding":{}},
  {"data":{"name":"pts"},"transform":[{"filter":"datum.p=='Te'"}],"mark":{"type":"point","filled":true,"opacity":1,"size":75,"strokeWidth":0},
   "encoding":{"x":{"field":"x","type":"quantitative","title":"Normal Score","scale":{"domain":[-3.15,3.15],"nice":false,"zero":false},"axis":{"values":[-3,-2.5,-2,-1.5,-1,-0.5,0,0.5,1,1.5,2,2.5,3],"format":".1f"}},
    "color":{"field":"c","type":"nominal","scale":{"domain":["Sericite","Chlorite","Amphibole","Chlorite-Amphibole-Fe Oxide","Sericite-Chlorite","NULL","Chlorite- Fe Oxide","Sericite- Fe Oxide","Fe Oxide","K Feldspar - Sericite","Chlorite - K Feldspar","K Feldspar - Fe oxide"],"range":["#ee1c1c","#33ee33","#1414d8","#1a6e1a","#f5f51a","#000000","#0f7a70","#6e1c0c","#7a7a7a","#f51af5","#6e6e14","#6e1480"]},
     "legend":{"title":"Colour","orient":"none","legendX":736,"legendY":508,"strokeColor":"#cccccc","cornerRadius":4,"padding":6,"titleFontSize":10,"titleFontWeight":"normal","titleColor":"#333","titlePadding":2,"labelFontSize":11.5,"labelColor":"#000","symbolSize":100,"symbolType":"circle","symbolStrokeWidth":0,"symbolOpacity":1,"rowPadding":7,"labelLimit":220}},
    "shape":{"field":"s","type":"nominal","scale":{"domain":["D","M"],"range":["circle","M-1,0A1,1,0,1,1,1,0A1,1,0,1,1,-1,0ZM-0.7,0A0.7,0.7,0,1,0,0.7,0A0.7,0.7,0,1,0,-0.7,0Z"]},
     "legend":{"title":"Shape","orient":"none","legendX":736,"legendY":776,"strokeColor":"#cccccc","cornerRadius":4,"padding":6,"titleFontSize":10,"titleFontWeight":"normal","titleColor":"#333","titlePadding":2,"labelFontSize":11.5,"labelColor":"#000","symbolSize":100,"symbolFillColor":"#000000","symbolStrokeWidth":0,"symbolOpacity":1,"rowPadding":7,"labelExpr":"datum.value=='M'?'magnetite-rich':'Default Shape'"}}}}
 ]},
{"title":"W_ppm","width":290,"height":196,
 "encoding":{"y":{"field":"y","type":"quantitative","title":"W_ppm","scale":{"domain":[-35,600],"nice":false,"zero":false},"axis":{"values":[0,50,100,150,200,250,300,350,400,450,500,550],"format":"d"}}},
 "layer":[
  {"data":{"name":"thr"},"transform":[{"filter":"datum.p=='W'"}],"mark":{"type":"rule","color":"#2b4c8f","strokeDash":[7,4],"strokeWidth":1.5},"encoding":{}},
  {"data":{"name":"pts"},"transform":[{"filter":"datum.p=='W'"}],"mark":{"type":"point","filled":true,"opacity":1,"size":75,"strokeWidth":0},
   "encoding":{"x":{"field":"x","type":"quantitative","title":"Normal Score","scale":{"domain":[-3.15,3.15],"nice":false,"zero":false},"axis":{"values":[-3,-2.5,-2,-1.5,-1,-0.5,0,0.5,1,1.5,2,2.5,3],"format":".1f"}},
    "color":{"field":"c","type":"nominal","scale":{"domain":["Sericite","Chlorite","Amphibole","Chlorite-Amphibole-Fe Oxide","Sericite-Chlorite","NULL","Chlorite- Fe Oxide","Sericite- Fe Oxide","Fe Oxide","K Feldspar - Sericite","Chlorite - K Feldspar","K Feldspar - Fe oxide"],"range":["#ee1c1c","#33ee33","#1414d8","#1a6e1a","#f5f51a","#000000","#0f7a70","#6e1c0c","#7a7a7a","#f51af5","#6e6e14","#6e1480"]},
     "legend":{"title":"Colour","orient":"none","legendX":736,"legendY":508,"strokeColor":"#cccccc","cornerRadius":4,"padding":6,"titleFontSize":10,"titleFontWeight":"normal","titleColor":"#333","titlePadding":2,"labelFontSize":11.5,"labelColor":"#000","symbolSize":100,"symbolType":"circle","symbolStrokeWidth":0,"symbolOpacity":1,"rowPadding":7,"labelLimit":220}},
    "shape":{"field":"s","type":"nominal","scale":{"domain":["D","M"],"range":["circle","M-1,0A1,1,0,1,1,1,0A1,1,0,1,1,-1,0ZM-0.7,0A0.7,0.7,0,1,0,0.7,0A0.7,0.7,0,1,0,-0.7,0Z"]},
     "legend":{"title":"Shape","orient":"none","legendX":736,"legendY":776,"strokeColor":"#cccccc","cornerRadius":4,"padding":6,"titleFontSize":10,"titleFontWeight":"normal","titleColor":"#333","titlePadding":2,"labelFontSize":11.5,"labelColor":"#000","symbolSize":100,"symbolFillColor":"#000000","symbolStrokeWidth":0,"symbolOpacity":1,"rowPadding":7,"labelExpr":"datum.value=='M'?'magnetite-rich':'Default Shape'"}}}}
 ]}
]
}
